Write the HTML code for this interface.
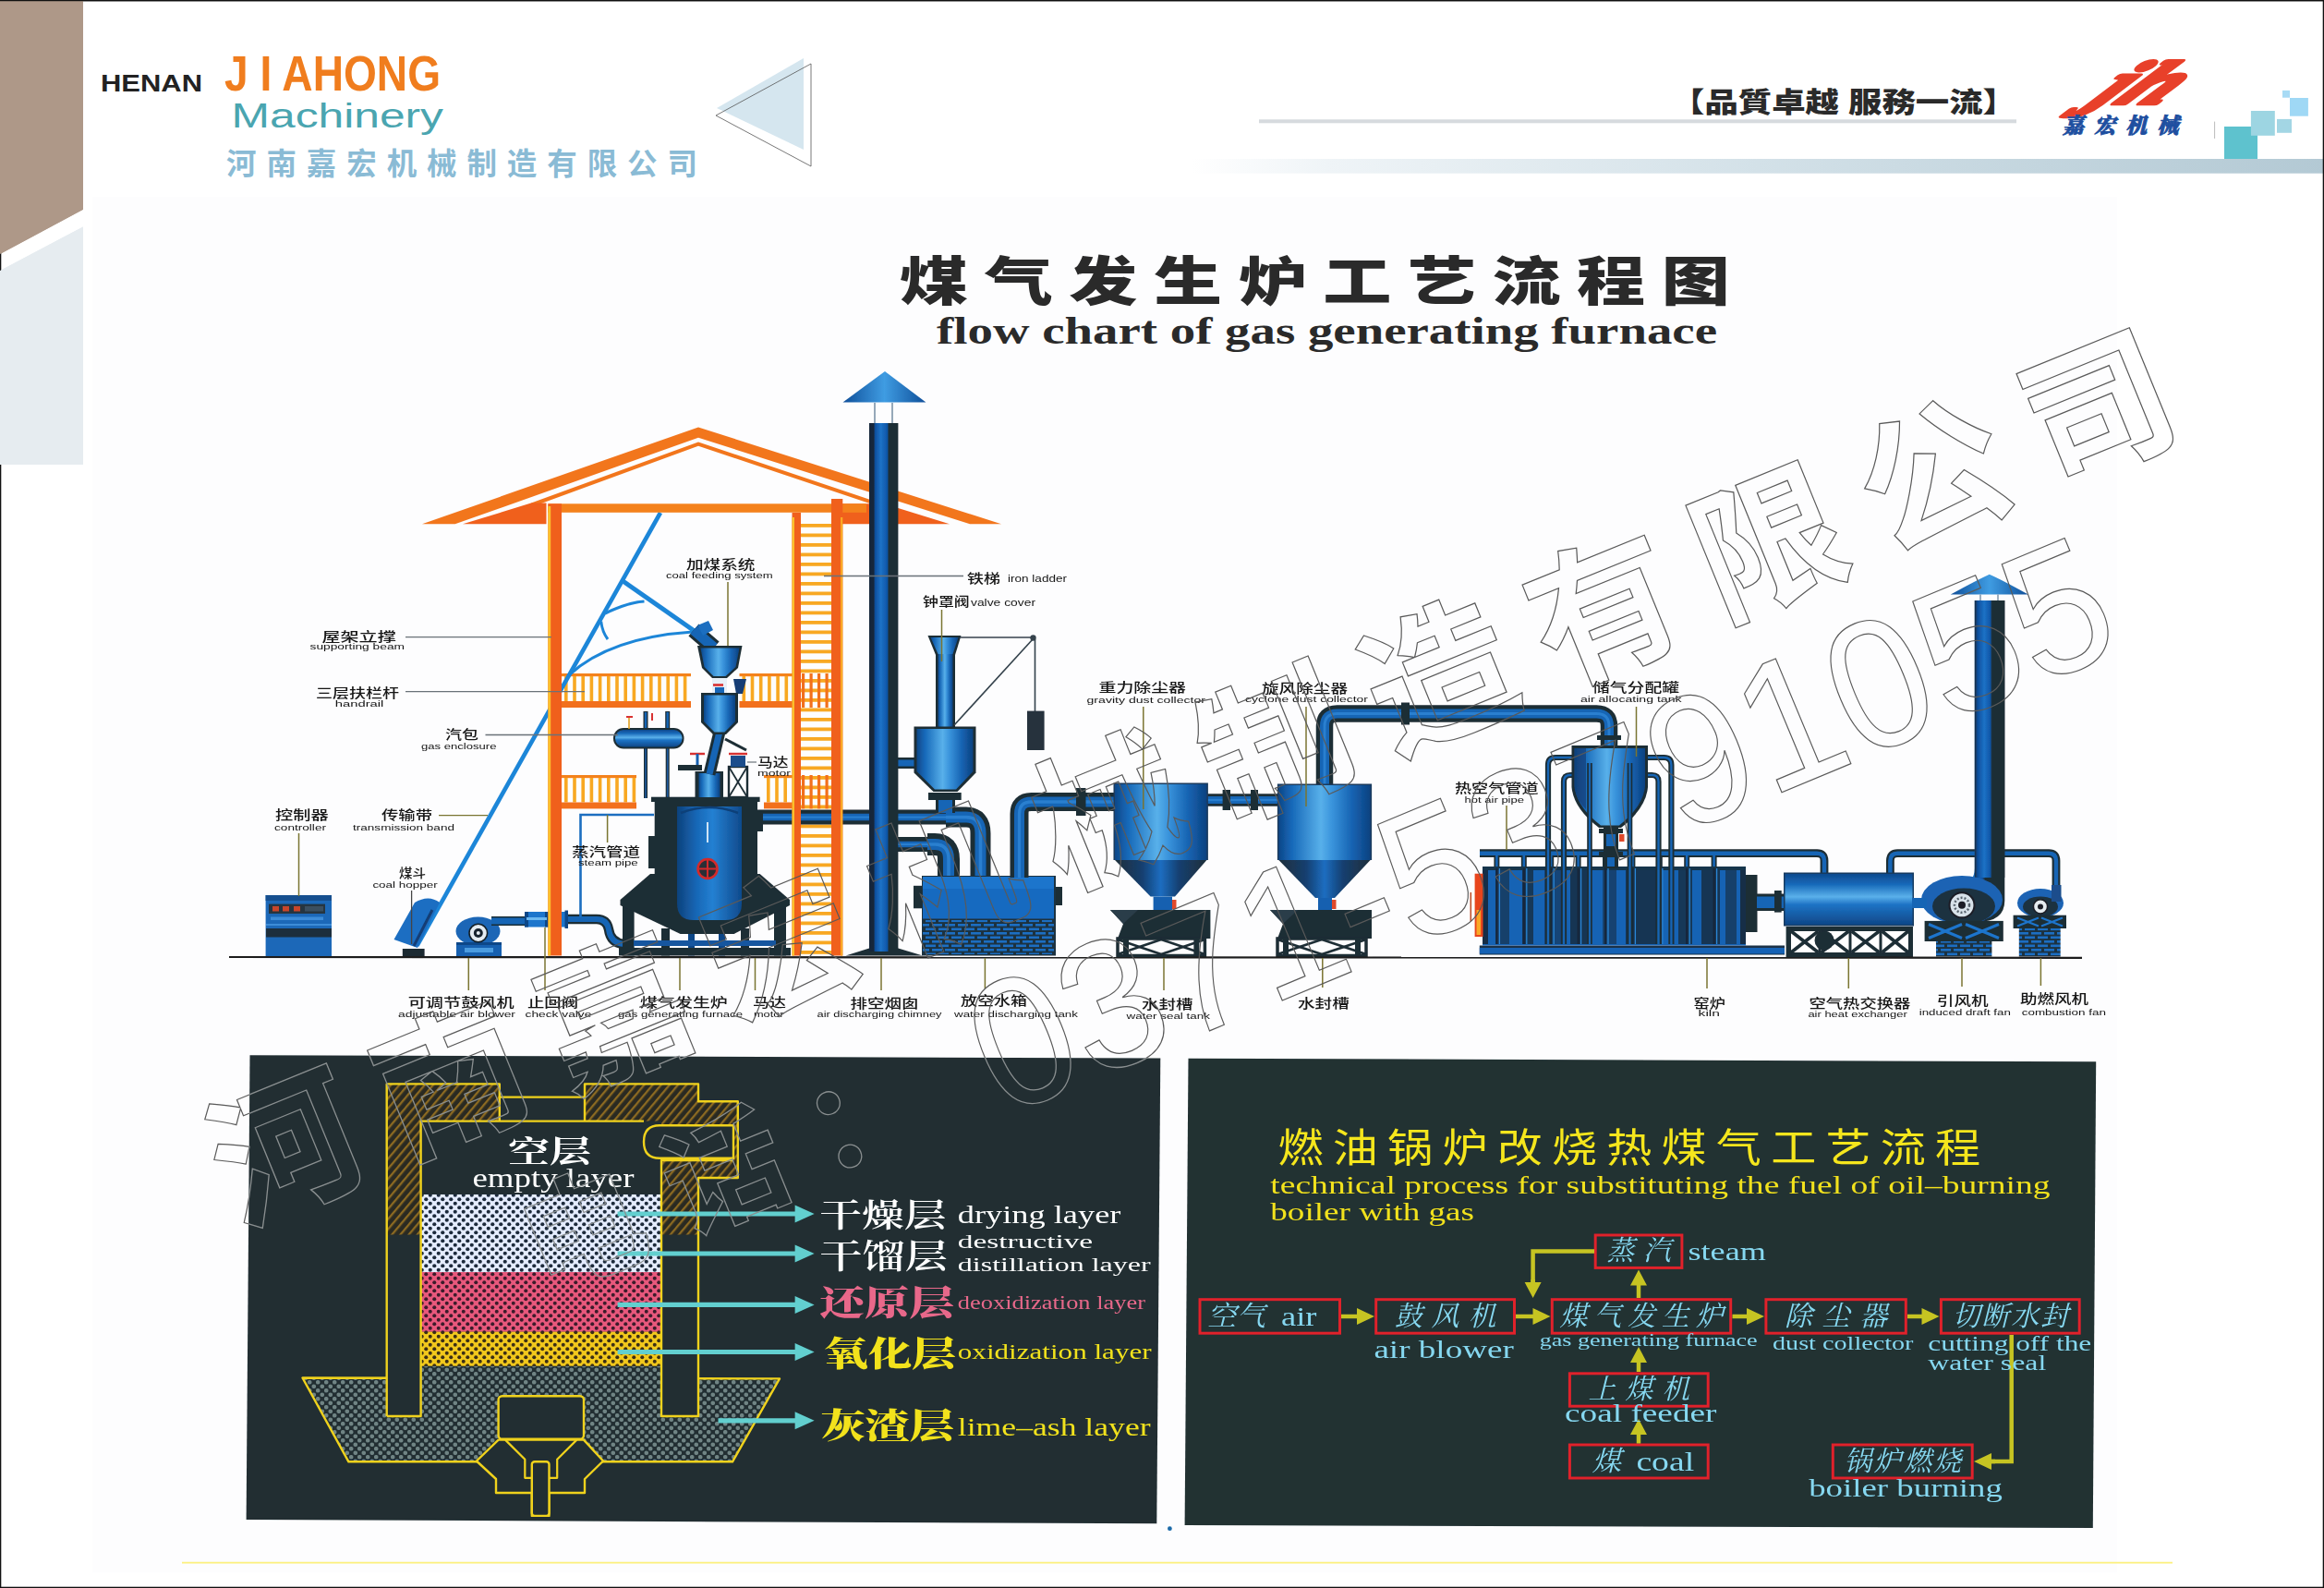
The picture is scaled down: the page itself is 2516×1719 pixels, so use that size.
<!DOCTYPE html>
<html lang="zh"><head><meta charset="utf-8"><title>煤气发生炉工艺流程图</title>
<style>html,body{margin:0;padding:0;background:#fff}body{width:2516px;height:1719px;overflow:hidden}svg{display:block}text{white-space:pre}</style>
</head><body>
<svg width="2516" height="1719" viewBox="0 0 2516 1719">
<rect width="2516" height="1719" fill="#fff"/>
<rect x="100.0" y="213.0" width="2192.0" height="1489.0" fill="#FDFDFE" />
<polygon points="0.0,0.0 90.0,0.0 90.0,226.8 0.0,275.0" fill="#AE9888" />
<polygon points="0.0,293.0 90.0,245.4 90.0,503.0 0.0,503.0" fill="#E6ECF0" />
<text x="109.0" y="98.7" font-size="25" fill="#222" font-family='"Liberation Sans","Noto Sans CJK SC",sans-serif' font-weight="700" textLength="110.0" lengthAdjust="spacingAndGlyphs">HENAN</text>
<text x="243.0" y="98.0" font-size="54.5" fill="#F07D1E" font-family='"Liberation Sans","Noto Sans CJK SC",sans-serif' font-weight="700" textLength="234.0" lengthAdjust="spacingAndGlyphs">J I AHONG</text>
<text x="250.6" y="138.0" font-size="36" fill="#4AA5B0" font-family='"Liberation Sans","Noto Sans CJK SC",sans-serif' font-weight="400" textLength="229.4" lengthAdjust="spacingAndGlyphs">Machinery</text>
<text x="245.0" y="189.0" font-size="32.5" fill="#8ABBD5" font-family='"Liberation Sans","Noto Sans CJK SC",sans-serif' font-weight="700" textLength="510.0" lengthAdjust="spacing">河南嘉宏机械制造有限公司</text>
<polygon points="776.0,117.0 870.0,63.0 870.0,162.0" fill="#D5E6EF" />
<polygon points="775.0,125.0 878.0,69.0 878.0,180.0" fill="none" stroke="#555" stroke-width="0.8"/>
<text x="1809.0" y="121.0" font-size="30" fill="#2a2a2a" font-family='"Liberation Sans","Noto Sans CJK SC",sans-serif' font-weight="900" textLength="374.0" lengthAdjust="spacingAndGlyphs">【品質卓越 服務一流】</text>
<rect x="1363.0" y="129.3" width="820.0" height="4.0" fill="#D6DADE" />
<g transform="translate(2260,111.5) skewX(-47)"><text x="0" y="0" font-size="66" fill="#E8402A" font-family='"Liberation Serif",serif' font-weight="700" font-style="italic" stroke="#E8402A" stroke-width="4.6" stroke-linejoin="round" textLength="80" lengthAdjust="spacingAndGlyphs">jh</text></g>
<text x="2233.0" y="143.5" font-size="23" fill="#1E4FA0" font-family='"Liberation Serif","Noto Serif CJK SC",serif' font-weight="900" textLength="125.4" lengthAdjust="spacing" font-style="italic" stroke="#1E4FA0" stroke-width="0.9">嘉宏机械</text>
<line x1="2397.6" y1="131.6" x2="2397.6" y2="150.0" stroke="#BBBBBB" stroke-width="1" />
<defs><linearGradient id="gbar" x1="0" x2="1" y1="0" y2="0"><stop offset="0" stop-color="#FFFFFF"/><stop offset="0.12" stop-color="#EFF4F7"/><stop offset="0.5" stop-color="#D3E1E8"/><stop offset="1" stop-color="#B3C9D4"/></linearGradient></defs>
<rect x="1290.0" y="172.0" width="1226.0" height="15.7" fill="url(#gbar)" />
<rect x="2408.0" y="137.0" width="36.0" height="35.0" fill="#5EC2CE" />
<rect x="2436.9" y="120.0" width="25.9" height="26.8" fill="#9DD5E2" />
<rect x="2465.0" y="128.9" width="16.0" height="14.9" fill="#A3D6E4" />
<rect x="2479.0" y="106.0" width="19.9" height="19.7" fill="#9FD8F5" />
<rect x="2471.0" y="97.9" width="8.0" height="7.8" fill="#A8DBF5" />
<g transform="translate(974,324.5) scale(1.3,1)"><text x="0" y="0" font-size="57" fill="#2a2a2a" font-family='"Liberation Sans","Noto Sans CJK SC",sans-serif' font-weight="900" letter-spacing="13.5">煤气发生炉工艺流程图</text></g>
<text x="1014.0" y="372.0" font-size="42" fill="#2a2a2a" font-family='"Liberation Serif","Noto Serif CJK SC",serif' font-weight="700" textLength="845.0" lengthAdjust="spacingAndGlyphs">flow chart of gas generating furnace</text>
<line x1="197.0" y1="1691.6" x2="2352.0" y2="1691.6" stroke="#FCF07C" stroke-width="1.7" />
<defs><filter id="soft" x="0" y="0" width="100%" height="100%" filterUnits="userSpaceOnUse"><feGaussianBlur stdDeviation="0.75"/></filter></defs>
<g filter="url(#soft)">
<defs>
<linearGradient id="cylG" x1="0" x2="1" y1="0" y2="0"><stop offset="0" stop-color="#0E4788"/><stop offset="0.14" stop-color="#1668B8"/><stop offset="0.46" stop-color="#58B0EA"/><stop offset="0.58" stop-color="#3A94DC"/><stop offset="0.8" stop-color="#1663B2"/><stop offset="1" stop-color="#0D4280"/></linearGradient>
<linearGradient id="coneG" x1="0" x2="1" y1="0" y2="0"><stop offset="0" stop-color="#1E2F3A"/><stop offset="0.3" stop-color="#173F70"/><stop offset="0.5" stop-color="#1B6DC0"/><stop offset="0.7" stop-color="#173F70"/><stop offset="1" stop-color="#1E2F3A"/></linearGradient>
<linearGradient id="chimG" x1="0" x2="1" y1="0" y2="0"><stop offset="0" stop-color="#16283A"/><stop offset="0.16" stop-color="#16283A"/><stop offset="0.2" stop-color="#0E4E9C"/><stop offset="0.4" stop-color="#1C72C6"/><stop offset="0.62" stop-color="#0F55A6"/><stop offset="0.68" stop-color="#1F2D35"/><stop offset="1" stop-color="#1F2D35"/></linearGradient>
<linearGradient id="chim2G" x1="0" x2="1" y1="0" y2="0"><stop offset="0" stop-color="#16283A"/><stop offset="0.1" stop-color="#0E4E9C"/><stop offset="0.32" stop-color="#1C72C6"/><stop offset="0.52" stop-color="#0F55A6"/><stop offset="0.58" stop-color="#1F2D35"/><stop offset="1" stop-color="#1F2D35"/></linearGradient>
<linearGradient id="capG" x1="0" x2="1" y1="0" y2="0"><stop offset="0" stop-color="#0F4F9A"/><stop offset="0.5" stop-color="#3F9CE2"/><stop offset="1" stop-color="#0F4F9A"/></linearGradient>
<linearGradient id="hcylG" x1="0" x2="0" y1="0" y2="1"><stop offset="0" stop-color="#0F4A8E"/><stop offset="0.2" stop-color="#1668B8"/><stop offset="0.45" stop-color="#5AB0EA"/><stop offset="0.6" stop-color="#1E74C6"/><stop offset="1" stop-color="#0E4788"/></linearGradient>
<linearGradient id="furnG" x1="0" x2="1" y1="0" y2="0"><stop offset="0" stop-color="#0E427C"/><stop offset="0.3" stop-color="#1767B6"/><stop offset="0.55" stop-color="#2480D2"/><stop offset="1" stop-color="#0F4A8C"/></linearGradient>
<pattern id="brick" width="14" height="9" patternUnits="userSpaceOnUse"><rect width="14" height="9" fill="#1E3040"/><rect x="1" y="1" width="11" height="2.6" fill="#1C6EC2"/><rect x="8" y="5.5" width="11" height="2.6" fill="#1C6EC2"/><rect x="-6" y="5.5" width="11" height="2.6" fill="#1C6EC2"/></pattern>
</defs>
<rect x="866.0" y="567.0" width="34.0" height="3.8" fill="#F8A820" />
<rect x="866.0" y="577.5" width="34.0" height="3.8" fill="#F8A820" />
<rect x="866.0" y="588.0" width="34.0" height="3.8" fill="#F8A820" />
<rect x="866.0" y="598.5" width="34.0" height="3.8" fill="#F8A820" />
<rect x="866.0" y="609.0" width="34.0" height="3.8" fill="#F8A820" />
<rect x="866.0" y="619.5" width="34.0" height="3.8" fill="#F8A820" />
<rect x="866.0" y="630.0" width="34.0" height="3.8" fill="#F8A820" />
<rect x="866.0" y="640.5" width="34.0" height="3.8" fill="#F8A820" />
<rect x="866.0" y="651.0" width="34.0" height="3.8" fill="#F8A820" />
<rect x="866.0" y="661.5" width="34.0" height="3.8" fill="#F8A820" />
<rect x="866.0" y="672.0" width="34.0" height="3.8" fill="#F8A820" />
<rect x="866.0" y="682.5" width="34.0" height="3.8" fill="#F8A820" />
<rect x="866.0" y="693.0" width="34.0" height="3.8" fill="#F8A820" />
<rect x="866.0" y="703.5" width="34.0" height="3.8" fill="#F8A820" />
<rect x="866.0" y="714.0" width="34.0" height="3.8" fill="#F8A820" />
<rect x="866.0" y="724.5" width="34.0" height="3.8" fill="#F8A820" />
<rect x="866.0" y="735.0" width="34.0" height="3.8" fill="#F8A820" />
<rect x="866.0" y="745.5" width="34.0" height="3.8" fill="#F8A820" />
<rect x="866.0" y="756.0" width="34.0" height="3.8" fill="#F8A820" />
<rect x="866.0" y="766.5" width="34.0" height="3.8" fill="#F8A820" />
<rect x="866.0" y="777.0" width="34.0" height="3.8" fill="#F8A820" />
<rect x="866.0" y="787.5" width="34.0" height="3.8" fill="#F8A820" />
<rect x="866.0" y="798.0" width="34.0" height="3.8" fill="#F8A820" />
<rect x="866.0" y="808.5" width="34.0" height="3.8" fill="#F8A820" />
<rect x="866.0" y="819.0" width="34.0" height="3.8" fill="#F8A820" />
<rect x="866.0" y="829.5" width="34.0" height="3.8" fill="#F8A820" />
<rect x="866.0" y="840.0" width="34.0" height="3.8" fill="#F8A820" />
<rect x="866.0" y="850.5" width="34.0" height="3.8" fill="#F8A820" />
<rect x="866.0" y="861.0" width="34.0" height="3.8" fill="#F8A820" />
<rect x="866.0" y="871.5" width="34.0" height="3.8" fill="#F8A820" />
<rect x="866.0" y="882.0" width="34.0" height="3.8" fill="#F8A820" />
<rect x="866.0" y="892.5" width="34.0" height="3.8" fill="#F8A820" />
<rect x="866.0" y="903.0" width="34.0" height="3.8" fill="#F8A820" />
<rect x="866.0" y="913.5" width="34.0" height="3.8" fill="#F8A820" />
<rect x="866.0" y="924.0" width="34.0" height="3.8" fill="#F8A820" />
<rect x="866.0" y="934.5" width="34.0" height="3.8" fill="#F8A820" />
<rect x="866.0" y="945.0" width="34.0" height="3.8" fill="#F8A820" />
<rect x="866.0" y="955.5" width="34.0" height="3.8" fill="#F8A820" />
<rect x="866.0" y="966.0" width="34.0" height="3.8" fill="#F8A820" />
<rect x="866.0" y="976.5" width="34.0" height="3.8" fill="#F8A820" />
<rect x="866.0" y="987.0" width="34.0" height="3.8" fill="#F8A820" />
<rect x="866.0" y="997.5" width="34.0" height="3.8" fill="#F8A820" />
<rect x="866.0" y="1008.0" width="34.0" height="3.8" fill="#F8A820" />
<rect x="866.0" y="1018.5" width="34.0" height="3.8" fill="#F8A820" />
<rect x="866.0" y="1029.0" width="34.0" height="3.8" fill="#F8A820" />
<rect x="608.0" y="729.0" width="140.0" height="3.2" fill="#F4821F" />
<rect x="611.0" y="732.0" width="3.6" height="27.0" fill="#F8A820" />
<rect x="620.2" y="732.0" width="3.6" height="27.0" fill="#F8A820" />
<rect x="629.4" y="732.0" width="3.6" height="27.0" fill="#F8A820" />
<rect x="638.6" y="732.0" width="3.6" height="27.0" fill="#F8A820" />
<rect x="647.8" y="732.0" width="3.6" height="27.0" fill="#F8A820" />
<rect x="657.0" y="732.0" width="3.6" height="27.0" fill="#F8A820" />
<rect x="666.2" y="732.0" width="3.6" height="27.0" fill="#F8A820" />
<rect x="675.4" y="732.0" width="3.6" height="27.0" fill="#F8A820" />
<rect x="684.6" y="732.0" width="3.6" height="27.0" fill="#F8A820" />
<rect x="693.8" y="732.0" width="3.6" height="27.0" fill="#F8A820" />
<rect x="703.0" y="732.0" width="3.6" height="27.0" fill="#F8A820" />
<rect x="712.2" y="732.0" width="3.6" height="27.0" fill="#F8A820" />
<rect x="721.4" y="732.0" width="3.6" height="27.0" fill="#F8A820" />
<rect x="730.6" y="732.0" width="3.6" height="27.0" fill="#F8A820" />
<rect x="739.8" y="732.0" width="3.6" height="27.0" fill="#F8A820" />
<rect x="608.0" y="759.0" width="140.0" height="7.0" fill="#F2701F" />
<rect x="800.5" y="729.0" width="57.5" height="3.2" fill="#F4821F" />
<rect x="803.5" y="732.0" width="3.6" height="27.0" fill="#F8A820" />
<rect x="812.7" y="732.0" width="3.6" height="27.0" fill="#F8A820" />
<rect x="821.9" y="732.0" width="3.6" height="27.0" fill="#F8A820" />
<rect x="831.1" y="732.0" width="3.6" height="27.0" fill="#F8A820" />
<rect x="840.3" y="732.0" width="3.6" height="27.0" fill="#F8A820" />
<rect x="849.5" y="732.0" width="3.6" height="27.0" fill="#F8A820" />
<rect x="800.5" y="759.0" width="57.5" height="7.0" fill="#F2701F" />
<rect x="608.0" y="839.0" width="81.0" height="3.2" fill="#F4821F" />
<rect x="611.0" y="842.0" width="3.6" height="26.5" fill="#F8A820" />
<rect x="620.2" y="842.0" width="3.6" height="26.5" fill="#F8A820" />
<rect x="629.4" y="842.0" width="3.6" height="26.5" fill="#F8A820" />
<rect x="638.6" y="842.0" width="3.6" height="26.5" fill="#F8A820" />
<rect x="647.8" y="842.0" width="3.6" height="26.5" fill="#F8A820" />
<rect x="657.0" y="842.0" width="3.6" height="26.5" fill="#F8A820" />
<rect x="666.2" y="842.0" width="3.6" height="26.5" fill="#F8A820" />
<rect x="675.4" y="842.0" width="3.6" height="26.5" fill="#F8A820" />
<rect x="684.6" y="842.0" width="3.6" height="26.5" fill="#F8A820" />
<rect x="608.0" y="868.5" width="81.0" height="6.9" fill="#F2701F" />
<rect x="827.0" y="839.0" width="31.0" height="3.2" fill="#F4821F" />
<rect x="830.0" y="842.0" width="3.6" height="26.5" fill="#F8A820" />
<rect x="839.2" y="842.0" width="3.6" height="26.5" fill="#F8A820" />
<rect x="848.4" y="842.0" width="3.6" height="26.5" fill="#F8A820" />
<rect x="827.0" y="868.5" width="31.0" height="6.9" fill="#F2701F" />
<rect x="868.0" y="729.0" width="3.2" height="37.0" fill="#F2701F" />
<rect x="876.5" y="729.0" width="3.2" height="37.0" fill="#F2701F" />
<rect x="885.0" y="729.0" width="3.2" height="37.0" fill="#F2701F" />
<rect x="893.5" y="729.0" width="3.2" height="37.0" fill="#F2701F" />
<rect x="868.0" y="839.0" width="3.2" height="36.4" fill="#F2701F" />
<rect x="876.5" y="839.0" width="3.2" height="36.4" fill="#F2701F" />
<rect x="885.0" y="839.0" width="3.2" height="36.4" fill="#F2701F" />
<rect x="893.5" y="839.0" width="3.2" height="36.4" fill="#F2701F" />
<path d="M820,884.6 H1040" fill="none" stroke="#1F2D35" stroke-width="16" stroke-linejoin="round"/>
<path d="M820,884.6 H1040" fill="none" stroke="#1565B5" stroke-width="7.5" stroke-linejoin="round"/>
<path d="M820,884.6 H1040" fill="none" stroke="#2F86D6" stroke-width="2.25" stroke-linejoin="round" opacity="0.8"/>
<path d="M1024,884.6 H1046 Q1061.5,884.6 1061.5,902 V950" fill="none" stroke="#1F2D35" stroke-width="22" stroke-linejoin="round"/>
<path d="M1024,884.6 H1046 Q1061.5,884.6 1061.5,902 V950" fill="none" stroke="#1565B5" stroke-width="12" stroke-linejoin="round"/>
<path d="M1024,884.6 H1046 Q1061.5,884.6 1061.5,902 V950" fill="none" stroke="#2F86D6" stroke-width="3.5999999999999996" stroke-linejoin="round" opacity="0.8"/>
<path d="M972,914 H1012" fill="none" stroke="#1F2D35" stroke-width="16" stroke-linejoin="round"/>
<path d="M972,914 H1012" fill="none" stroke="#1565B5" stroke-width="6.5" stroke-linejoin="round"/>
<path d="M972,914 H1012" fill="none" stroke="#2F86D6" stroke-width="1.95" stroke-linejoin="round" opacity="0.8"/>
<path d="M1004,914 H1012 Q1027,914 1027,930 V950" fill="none" stroke="#1F2D35" stroke-width="24" stroke-linejoin="round"/>
<path d="M1004,914 H1012 Q1027,914 1027,930 V950" fill="none" stroke="#1565B5" stroke-width="12" stroke-linejoin="round"/>
<path d="M1004,914 H1012 Q1027,914 1027,930 V950" fill="none" stroke="#2F86D6" stroke-width="3.5999999999999996" stroke-linejoin="round" opacity="0.8"/>
<path d="M972,826 H993" fill="none" stroke="#1F2D35" stroke-width="12" stroke-linejoin="round"/>
<path d="M972,826 H993" fill="none" stroke="#1565B5" stroke-width="7" stroke-linejoin="round"/>
<rect x="287.6" y="969.0" width="71.4" height="66.0" fill="#1A68B8" />
<rect x="287.6" y="969.0" width="71.4" height="6.0" fill="#12508F" />
<rect x="291.0" y="978.6" width="61.0" height="10.4" fill="#253540" />
<rect x="295.0" y="981.0" width="7.0" height="5.5" fill="#C8452C" />
<rect x="306.0" y="981.0" width="7.0" height="5.5" fill="#C8452C" />
<rect x="318.0" y="981.0" width="7.0" height="5.5" fill="#C8452C" />
<rect x="330.0" y="981.0" width="20.0" height="5.5" fill="#3A5060" />
<rect x="293.0" y="992.5" width="57.0" height="3.5" fill="#3C8CD8" />
<rect x="288.0" y="1005.0" width="71.0" height="9.5" fill="#1F2F3C" />
<rect x="288.0" y="1000.0" width="71.0" height="2.0" fill="#3C8CD8" />
<line x1="451.6" y1="1023.6" x2="715.0" y2="555.0" stroke="#1E86D8" stroke-width="4.6" />
<line x1="674.0" y1="628.7" x2="756.0" y2="686.0" stroke="#1E86D8" stroke-width="5" />
<path d="M655,664 Q680,652 697.5,651" fill="none" stroke="#1E86D8" stroke-width="3.2" />
<path d="M615.6,731 Q660,690 750,684" fill="none" stroke="#1E86D8" stroke-width="3.2" />
<path d="M650.7,672.6 Q652,684 658,692" fill="none" stroke="#1E86D8" stroke-width="3" />
<path d="M449,977 Q464,968 476,977 L452,1026 L426.5,1017 Z" fill="#1B6EC2" stroke="none" stroke-width="1" />
<path d="M468,985 L448,1024" fill="none" stroke="#123E74" stroke-width="3" />
<rect x="435.8" y="1027.0" width="23.8" height="8.0" fill="#1F2A32" />
<ellipse cx="517.5" cy="1008" rx="24" ry="15.5" fill="#1A66B6"/>
<rect x="494.0" y="1020.0" width="49.0" height="15.0" fill="#1560B0" />
<rect x="494.0" y="1020.0" width="49.0" height="3.0" fill="#0E4788" />
<rect x="503.0" y="1026.0" width="31.0" height="5.0" fill="#4C9CE0" />
<circle cx="517.8" cy="1010" r="9.8" fill="#E4ECF2" stroke="#14202A" stroke-width="1.6"/>
<circle cx="517.8" cy="1010" r="5" fill="#18242E"/><circle cx="517.8" cy="1010" r="2" fill="#E4ECF2"/>
<path d="M532,997 H570" fill="none" stroke="#1F2D35" stroke-width="10" stroke-linejoin="round"/>
<path d="M532,997 H570" fill="none" stroke="#1565B5" stroke-width="7" stroke-linejoin="round"/>
<rect x="568.0" y="987.0" width="26.0" height="16.5" fill="#1B74CC" />
<rect x="568.0" y="987.0" width="4.0" height="16.5" fill="#0E4788" />
<rect x="590.0" y="987.0" width="4.0" height="16.5" fill="#0E4788" />
<rect x="570.0" y="993.0" width="22.0" height="3.0" fill="#6CB8F0" />
<polygon points="457.0,567.3 756.0,462.5 1084.0,567.3 1050.0,567.3 756.0,473.8 492.7,567.3" fill="#F2761F" />
<polygon points="575.0,544.6 756.0,478.4 955.0,545.3 955.0,549.5 756.0,482.8 575.0,549.0" fill="#F2761F" />
<polygon points="501.0,567.3 575.0,544.6 591.5,544.6 591.5,567.3" fill="#F0601E" />
<polygon points="911.7,545.3 957.0,545.3 1028.0,567.3 911.7,567.3" fill="#F0601E" />
<rect x="593.4" y="545.3" width="344.6" height="9.5" fill="#F4821F" />
<rect x="593.4" y="545.3" width="14.6" height="489.2" fill="#F0601E" />
<rect x="593.4" y="548.0" width="2.8" height="486.5" fill="#FBC02A" />
<rect x="900.0" y="540.0" width="12.3" height="494.5" fill="#F0601E" />
<rect x="910.0" y="560.0" width="2.3" height="474.5" fill="#F9A825" />
<rect x="857.5" y="555.0" width="9.5" height="479.5" fill="#F0601E" />
<rect x="857.5" y="560.0" width="2.5" height="474.5" fill="#FBC02A" />
<rect x="608.0" y="987.0" width="7.0" height="16.5" fill="#1B74CC" />
<rect x="611.5" y="985.5" width="3.5" height="19.5" fill="#0E4788" />
<path d="M615,995 H646 Q657,995 659,1006 Q661,1021 676,1022" fill="none" stroke="#1F2D35" stroke-width="10.5" stroke-linejoin="round"/>
<path d="M615,995 H646 Q657,995 659,1006 Q661,1021 676,1022" fill="none" stroke="#1565B5" stroke-width="6" stroke-linejoin="round"/>
<line x1="699.0" y1="770.0" x2="699.0" y2="790.0" stroke="#1F2D35" stroke-width="5" />
<line x1="699.0" y1="771.0" x2="699.0" y2="790.0" stroke="#1565B5" stroke-width="2.4" />
<line x1="699.0" y1="808.0" x2="699.0" y2="864.0" stroke="#1F2D35" stroke-width="4" />
<line x1="699.0" y1="808.0" x2="699.0" y2="864.0" stroke="#1A5AA0" stroke-width="1.6" />
<line x1="722.7" y1="770.0" x2="722.7" y2="790.0" stroke="#1F2D35" stroke-width="5" />
<line x1="722.7" y1="771.0" x2="722.7" y2="790.0" stroke="#1565B5" stroke-width="2.4" />
<line x1="722.7" y1="808.0" x2="722.7" y2="864.0" stroke="#1F2D35" stroke-width="4" />
<line x1="722.7" y1="808.0" x2="722.7" y2="864.0" stroke="#1A5AA0" stroke-width="1.6" />
<rect x="664" y="788" width="76.5" height="22.5" rx="11" fill="#1F2D35"/>
<rect x="666" y="790" width="72.5" height="18.5" rx="9" fill="url(#hcylG)"/>
<line x1="681.0" y1="775.0" x2="681.0" y2="789.0" stroke="#E0A020" stroke-width="1.6" />
<line x1="678.0" y1="776.0" x2="685.0" y2="776.0" stroke="#D83030" stroke-width="2" />
<line x1="706.0" y1="772.0" x2="706.0" y2="780.0" stroke="#D83030" stroke-width="2" />
<path d="M708,882 H628.5 V993" fill="none" stroke="#1A6EC0" stroke-width="2.6" />
<rect x="674.0" y="972.0" width="12.6" height="62.5" fill="#1F2D35" />
<rect x="838.0" y="972.0" width="13.0" height="62.5" fill="#1F2D35" />
<rect x="716.0" y="1005.0" width="9.0" height="29.5" fill="#1F2D35" />
<rect x="802.0" y="1005.0" width="9.0" height="29.5" fill="#1F2D35" />
<rect x="745.0" y="1009.0" width="7.0" height="25.5" fill="#0E4788" />
<rect x="778.0" y="1009.0" width="7.0" height="25.5" fill="#0E4788" />
<rect x="670.0" y="1026.0" width="186.0" height="8.5" fill="#1F2D35" />
<rect x="686.0" y="1018.0" width="154.0" height="6.0" fill="#14579F" />
<polygon points="704.0,946.0 822.6,946.0 855.0,974.0 855.0,980.0 794.7,1011.0 736.6,1011.0 671.5,980.0 671.5,974.0" fill="#1F2D35" />
<rect x="708.7" y="866.0" width="111.3" height="82.0" fill="#1F2D35" />
<rect x="705.0" y="862.7" width="117.6" height="5.3" fill="#1F2D35" />
<rect x="702.0" y="905.0" width="7.0" height="35.0" fill="#1F2D35" />
<rect x="820.0" y="880.0" width="6.0" height="20.0" fill="#1F2D35" />
<path d="M733,873 H803 V978 Q803,996 785,996 H751 Q733,996 733,978 Z" fill="url(#furnG)" stroke="none" stroke-width="1" />
<path d="M737,880 Q768,868 799,880" fill="none" stroke="#0E3F78" stroke-width="2.5" />
<line x1="766.0" y1="890.0" x2="766.0" y2="912.0" stroke="#CFE3F5" stroke-width="2" />
<circle cx="766" cy="940.5" r="10.5" fill="#2A2F36" stroke="#D42A2A" stroke-width="2.6"/>
<line x1="766.0" y1="931.0" x2="766.0" y2="950.0" stroke="#D42A2A" stroke-width="2" />
<line x1="756.5" y1="940.5" x2="775.5" y2="940.5" stroke="#D42A2A" stroke-width="2" />
<rect x="752.5" y="835.0" width="30.5" height="29.0" fill="#1F2D35" />
<rect x="756.5" y="837.0" width="23.0" height="26.0" fill="url(#cylG)" />
<rect x="789.0" y="830.0" width="20.0" height="33.0" fill="none" stroke="#1F2D35" stroke-width="2.4"/>
<line x1="789.0" y1="830.0" x2="809.0" y2="863.0" stroke="#1F2D35" stroke-width="1.8" />
<line x1="809.0" y1="830.0" x2="789.0" y2="863.0" stroke="#1F2D35" stroke-width="1.8" />
<rect x="791.0" y="818.0" width="16.0" height="12.0" fill="#1A4E8C" />
<line x1="747.0" y1="816.0" x2="763.0" y2="816.0" stroke="#D83030" stroke-width="2.4" />
<line x1="789.0" y1="816.0" x2="809.0" y2="816.0" stroke="#D83030" stroke-width="2.4" />
<line x1="755.0" y1="816.0" x2="755.0" y2="830.0" stroke="#1660B0" stroke-width="3" />
<rect x="734.0" y="828.0" width="26.0" height="6.0" fill="#1F2D35" />
<path d="M779,792 L768,838" fill="none" stroke="#1F2D35" stroke-width="13" />
<path d="M779,792 L768,838" fill="none" stroke="#1565B5" stroke-width="7" />
<path d="M785,800 L808,812" fill="none" stroke="#1F2D35" stroke-width="3" />
<path d="M751,682 L773,701" fill="none" stroke="#1F2D35" stroke-width="17" />
<path d="M751,682 L773,701" fill="none" stroke="#1565B5" stroke-width="11" />
<polygon points="755.0,677.0 767.0,672.0 772.0,682.0 761.0,688.0" fill="#1A6EC0" />
<polygon points="755.0,699.0 803.5,699.0 799.0,723.0 787.0,734.0 771.0,734.0 760.0,723.0" fill="#1F2D35" />
<polygon points="758.5,701.5 800.5,701.5 796.5,722.0 785.5,732.0 772.5,732.0 762.5,722.0" fill="url(#cylG)" />
<rect x="771.0" y="734.0" width="16.0" height="18.0" fill="#E8F0F8" />
<line x1="772.0" y1="741.5" x2="783.0" y2="741.5" stroke="#D83030" stroke-width="2.6" />
<rect x="774.0" y="744.0" width="10.0" height="7.0" fill="#1565B5" />
<polygon points="794.0,735.0 808.0,735.0 804.0,751.0 797.0,751.0" fill="#123E74" />
<polygon points="759.0,750.0 799.0,750.0 799.0,782.0 786.0,795.0 772.0,795.0 759.0,782.0" fill="#1F2D35" />
<polygon points="762.0,752.5 796.0,752.5 796.0,781.0 784.5,792.5 773.5,792.5 762.0,781.0" fill="url(#cylG)" />
<polygon points="915.5,1034.5 941.0,1026.5 972.4,1026.5 999.0,1034.5" fill="#1F2D35" />
<rect x="941.0" y="458.0" width="31.4" height="572.0" fill="url(#chimG)" />
<line x1="947.0" y1="436.0" x2="947.0" y2="458.0" stroke="#7C93A8" stroke-width="1.6" />
<line x1="966.0" y1="436.0" x2="966.0" y2="458.0" stroke="#7C93A8" stroke-width="1.6" />
<polygon points="958.0,402.0 1002.4,435.6 912.5,435.6" fill="url(#capG)" />
<polygon points="1004.5,688.0 1040.5,688.0 1034.0,709.0 1013.0,709.0" fill="#1F2D35" />
<polygon points="1007.5,690.0 1037.5,690.0 1031.5,708.0 1015.5,708.0" fill="url(#cylG)" />
<rect x="1013.0" y="708.0" width="21.0" height="82.0" fill="#1F2D35" />
<rect x="1015.5" y="708.0" width="16.0" height="82.0" fill="url(#cylG)" />
<polygon points="989.5,786.5 1056.5,786.5 1056.5,836.5 1036.5,857.0 1010.5,857.0 989.5,836.5" fill="#1F2D35" />
<polygon points="992.5,789.0 1053.5,789.0 1053.5,835.0 1035.0,854.5 1012.0,854.5 992.5,835.0" fill="url(#cylG)" />
<rect x="1005.0" y="858.0" width="35.7" height="8.0" fill="#1F2D35" />
<rect x="1013.0" y="866.0" width="21.0" height="14.0" fill="#1F2D35" />
<rect x="1016.0" y="866.0" width="15.0" height="14.0" fill="#1565B5" />
<line x1="1039.0" y1="690.0" x2="1117.0" y2="690.0" stroke="#34424C" stroke-width="1.6" />
<line x1="1118.0" y1="692.0" x2="1033.0" y2="785.0" stroke="#34424C" stroke-width="1.6" />
<line x1="1120.5" y1="692.0" x2="1120.5" y2="770.0" stroke="#34424C" stroke-width="1.6" />
<circle cx="1118.5" cy="690.5" r="3.2" fill="#34424C"/>
<rect x="1112.0" y="769.6" width="18.6" height="42.4" fill="#25333C" />
<rect x="989.0" y="958.8" width="11.0" height="24.5" fill="#1F2D35" />
<rect x="1142.0" y="960.0" width="8.0" height="20.0" fill="#1F2D35" />
<rect x="998.0" y="948.0" width="145.0" height="86.5" fill="#1E3040" />
<rect x="999.0" y="949.0" width="142.0" height="45.5" fill="#176AC0" />
<rect x="999.0" y="949.0" width="142.0" height="13.0" fill="#1B74CC" />
<rect x="999.0" y="996.0" width="142.0" height="37.0" fill="url(#brick)" />
<path d="M1103.5,950 V881 Q1103.5,868 1116.5,868 H1209" fill="none" stroke="#1F2D35" stroke-width="20" stroke-linejoin="round"/>
<path d="M1103.5,950 V881 Q1103.5,868 1116.5,868 H1209" fill="none" stroke="#1565B5" stroke-width="11" stroke-linejoin="round"/>
<path d="M1103.5,950 V881 Q1103.5,868 1116.5,868 H1209" fill="none" stroke="#2F86D6" stroke-width="3.3" stroke-linejoin="round" opacity="0.8"/>
<rect x="1165.0" y="853.0" width="10.5" height="30.0" fill="#1F2D35" />
<path d="M1305,866 H1386" fill="none" stroke="#1F2D35" stroke-width="13.5" stroke-linejoin="round"/>
<path d="M1305,866 H1386" fill="none" stroke="#1565B5" stroke-width="8" stroke-linejoin="round"/>
<path d="M1305,866 H1386" fill="none" stroke="#2F86D6" stroke-width="2.4" stroke-linejoin="round" opacity="0.8"/>
<rect x="1323.6" y="855.0" width="8.4" height="22.0" fill="#1F2D35" />
<rect x="1354.0" y="855.0" width="8.0" height="22.0" fill="#1F2D35" />
<path d="M1434,852 V786 Q1434,772.4 1447.6,772.4 H1728.4 Q1742,772.4 1742,786 V810" fill="none" stroke="#1F2D35" stroke-width="18.5" stroke-linejoin="round"/>
<path d="M1434,852 V786 Q1434,772.4 1447.6,772.4 H1728.4 Q1742,772.4 1742,786 V810" fill="none" stroke="#1565B5" stroke-width="10" stroke-linejoin="round"/>
<path d="M1434,852 V786 Q1434,772.4 1447.6,772.4 H1728.4 Q1742,772.4 1742,786 V810" fill="none" stroke="#2F86D6" stroke-width="3.0" stroke-linejoin="round" opacity="0.8"/>
<rect x="1517.0" y="760.5" width="9.0" height="24.0" fill="#1F2D35" />
<rect x="1729.0" y="796.0" width="26.0" height="5.0" fill="#1F2D35" />
<polygon points="1207.0,931.0 1306.4,931.0 1272.0,970.6 1245.6,970.6" fill="url(#coneG)" />
<rect x="1205.5" y="847.5" width="102.4" height="83.5" fill="#1B3A5C" />
<rect x="1207.0" y="849.0" width="99.4" height="82.0" fill="url(#cylG)" />
<rect x="1248.6" y="970.6" width="20.4" height="15.4" fill="#1560B0" />
<rect x="1269.0" y="974.0" width="4.5" height="10.0" fill="#E04A2A" />
<polygon points="1202.0,985.0 1310.4,985.0 1310.4,1016.0 1210.0,1016.0 1216.0,1000.0" fill="#1F2D35" />
<polygon points="1202.0,985.0 1232.0,985.0 1216.0,1000.0" fill="#2A3C48" />
<rect x="1210.0" y="1016.0" width="94.4" height="18.5" fill="none" stroke="#1F2D35" stroke-width="3.5"/>
<line x1="1210.0" y1="1017.0" x2="1257.2" y2="1033.0" stroke="#1F2D35" stroke-width="2.6" />
<line x1="1257.2" y1="1017.0" x2="1210.0" y2="1033.0" stroke="#1F2D35" stroke-width="2.6" />
<line x1="1257.2" y1="1017.0" x2="1304.4" y2="1033.0" stroke="#1F2D35" stroke-width="2.6" />
<line x1="1304.4" y1="1017.0" x2="1257.2" y2="1033.0" stroke="#1F2D35" stroke-width="2.6" />
<rect x="1216.0" y="1016.0" width="6.0" height="18.5" fill="#1F2D35" />
<rect x="1292.4" y="1016.0" width="6.0" height="18.5" fill="#1F2D35" />
<polygon points="1384.4,931.0 1483.6,931.0 1445.0,972.0 1424.0,972.0" fill="url(#coneG)" />
<rect x="1382.9" y="848.5" width="102.2" height="82.5" fill="#1B3A5C" />
<rect x="1384.4" y="850.0" width="99.2" height="81.0" fill="url(#cylG)" />
<rect x="1427.0" y="972.0" width="15.0" height="14.0" fill="#1560B0" />
<rect x="1442.0" y="974.0" width="4.5" height="10.0" fill="#E04A2A" />
<polygon points="1375.0,985.0 1485.0,985.0 1485.0,1016.0 1383.0,1016.0 1389.0,1000.0" fill="#1F2D35" />
<polygon points="1375.0,985.0 1405.0,985.0 1389.0,1000.0" fill="#2A3C48" />
<rect x="1383.0" y="1016.0" width="96.0" height="18.5" fill="none" stroke="#1F2D35" stroke-width="3.5"/>
<line x1="1383.0" y1="1017.0" x2="1431.0" y2="1033.0" stroke="#1F2D35" stroke-width="2.6" />
<line x1="1431.0" y1="1017.0" x2="1383.0" y2="1033.0" stroke="#1F2D35" stroke-width="2.6" />
<line x1="1431.0" y1="1017.0" x2="1479.0" y2="1033.0" stroke="#1F2D35" stroke-width="2.6" />
<line x1="1479.0" y1="1017.0" x2="1431.0" y2="1033.0" stroke="#1F2D35" stroke-width="2.6" />
<rect x="1389.0" y="1016.0" width="6.0" height="18.5" fill="#1F2D35" />
<rect x="1467.0" y="1016.0" width="6.0" height="18.5" fill="#1F2D35" />
<path d="M1602,923.7 H1967 Q1975,923.7 1975,931.7 V947" fill="none" stroke="#1F2D35" stroke-width="8.8" stroke-linejoin="round"/>
<path d="M1602,923.7 H1967 Q1975,923.7 1975,931.7 V947" fill="none" stroke="#1565B5" stroke-width="4.5" stroke-linejoin="round"/>
<path d="M1620.4,926 V941" fill="none" stroke="#1F2D35" stroke-width="6" stroke-linejoin="round"/>
<path d="M1620.4,926 V941" fill="none" stroke="#1565B5" stroke-width="2.6" stroke-linejoin="round"/>
<path d="M1649.8,926 V941" fill="none" stroke="#1F2D35" stroke-width="6" stroke-linejoin="round"/>
<path d="M1649.8,926 V941" fill="none" stroke="#1565B5" stroke-width="2.6" stroke-linejoin="round"/>
<path d="M1679.2,926 V941" fill="none" stroke="#1F2D35" stroke-width="6" stroke-linejoin="round"/>
<path d="M1679.2,926 V941" fill="none" stroke="#1565B5" stroke-width="2.6" stroke-linejoin="round"/>
<path d="M1708.6,926 V941" fill="none" stroke="#1F2D35" stroke-width="6" stroke-linejoin="round"/>
<path d="M1708.6,926 V941" fill="none" stroke="#1565B5" stroke-width="2.6" stroke-linejoin="round"/>
<path d="M1738.0,926 V941" fill="none" stroke="#1F2D35" stroke-width="6" stroke-linejoin="round"/>
<path d="M1738.0,926 V941" fill="none" stroke="#1565B5" stroke-width="2.6" stroke-linejoin="round"/>
<path d="M1767.4,926 V941" fill="none" stroke="#1F2D35" stroke-width="6" stroke-linejoin="round"/>
<path d="M1767.4,926 V941" fill="none" stroke="#1565B5" stroke-width="2.6" stroke-linejoin="round"/>
<path d="M1796.8,926 V941" fill="none" stroke="#1F2D35" stroke-width="6" stroke-linejoin="round"/>
<path d="M1796.8,926 V941" fill="none" stroke="#1565B5" stroke-width="2.6" stroke-linejoin="round"/>
<path d="M1826.2,926 V941" fill="none" stroke="#1F2D35" stroke-width="6" stroke-linejoin="round"/>
<path d="M1826.2,926 V941" fill="none" stroke="#1565B5" stroke-width="2.6" stroke-linejoin="round"/>
<path d="M1855.6,926 V941" fill="none" stroke="#1F2D35" stroke-width="6" stroke-linejoin="round"/>
<path d="M1855.6,926 V941" fill="none" stroke="#1565B5" stroke-width="2.6" stroke-linejoin="round"/>
<path d="M2046.4,947 V931.7 Q2046.4,923.7 2054.4,923.7 H2218 Q2226,923.7 2226,931.7 V962" fill="none" stroke="#1F2D35" stroke-width="8.8" stroke-linejoin="round"/>
<path d="M2046.4,947 V931.7 Q2046.4,923.7 2054.4,923.7 H2218 Q2226,923.7 2226,931.7 V962" fill="none" stroke="#1565B5" stroke-width="4.5" stroke-linejoin="round"/>
<rect x="1601.8" y="1023.5" width="330.2" height="10.0" fill="#1A3046" />
<rect x="1601.8" y="1026.0" width="330.2" height="6.5" fill="#1862B4" />
<rect x="1605.0" y="938.0" width="285.0" height="85.5" fill="#1763B4" />
<rect x="1605.0" y="940.0" width="6.0" height="82.0" fill="#14283A" opacity="0.9"/>
<rect x="1619.0" y="940.0" width="15.0" height="82.0" fill="#14283A" opacity="0.6"/>
<rect x="1648.0" y="940.0" width="12.0" height="82.0" fill="#14283A" opacity="0.75"/>
<rect x="1672.0" y="940.0" width="18.0" height="82.0" fill="#14283A" opacity="0.5"/>
<rect x="1700.0" y="940.0" width="22.0" height="82.0" fill="#14283A" opacity="0.8"/>
<rect x="1735.0" y="940.0" width="15.0" height="82.0" fill="#14283A" opacity="0.55"/>
<rect x="1760.0" y="940.0" width="40.0" height="82.0" fill="#14283A" opacity="0.8"/>
<rect x="1817.0" y="940.0" width="15.0" height="82.0" fill="#14283A" opacity="0.75"/>
<rect x="1842.0" y="940.0" width="20.0" height="82.0" fill="#14283A" opacity="0.8"/>
<rect x="1868.0" y="940.0" width="12.0" height="82.0" fill="#14283A" opacity="0.6"/>
<rect x="1884.0" y="940.0" width="6.0" height="82.0" fill="#14283A" opacity="0.9"/>
<rect x="1605.0" y="938.0" width="285.0" height="4.0" fill="#18344C" />
<line x1="1620.4" y1="940.0" x2="1620.4" y2="1022.0" stroke="#16283A" stroke-width="2.2" />
<line x1="1623.4" y1="940.0" x2="1623.4" y2="1022.0" stroke="#2C86D6" stroke-width="1.3" />
<line x1="1649.8" y1="940.0" x2="1649.8" y2="1022.0" stroke="#16283A" stroke-width="2.2" />
<line x1="1652.8" y1="940.0" x2="1652.8" y2="1022.0" stroke="#2C86D6" stroke-width="1.3" />
<line x1="1679.2" y1="940.0" x2="1679.2" y2="1022.0" stroke="#16283A" stroke-width="2.2" />
<line x1="1682.2" y1="940.0" x2="1682.2" y2="1022.0" stroke="#2C86D6" stroke-width="1.3" />
<line x1="1708.6" y1="940.0" x2="1708.6" y2="1022.0" stroke="#16283A" stroke-width="2.2" />
<line x1="1711.6" y1="940.0" x2="1711.6" y2="1022.0" stroke="#2C86D6" stroke-width="1.3" />
<line x1="1738.0" y1="940.0" x2="1738.0" y2="1022.0" stroke="#16283A" stroke-width="2.2" />
<line x1="1741.0" y1="940.0" x2="1741.0" y2="1022.0" stroke="#2C86D6" stroke-width="1.3" />
<line x1="1767.4" y1="940.0" x2="1767.4" y2="1022.0" stroke="#16283A" stroke-width="2.2" />
<line x1="1770.4" y1="940.0" x2="1770.4" y2="1022.0" stroke="#2C86D6" stroke-width="1.3" />
<line x1="1796.8" y1="940.0" x2="1796.8" y2="1022.0" stroke="#16283A" stroke-width="2.2" />
<line x1="1799.8" y1="940.0" x2="1799.8" y2="1022.0" stroke="#2C86D6" stroke-width="1.3" />
<line x1="1826.2" y1="940.0" x2="1826.2" y2="1022.0" stroke="#16283A" stroke-width="2.2" />
<line x1="1829.2" y1="940.0" x2="1829.2" y2="1022.0" stroke="#2C86D6" stroke-width="1.3" />
<line x1="1855.6" y1="940.0" x2="1855.6" y2="1022.0" stroke="#16283A" stroke-width="2.2" />
<line x1="1858.6" y1="940.0" x2="1858.6" y2="1022.0" stroke="#2C86D6" stroke-width="1.3" />
<rect x="1596.6" y="945.7" width="8.9" height="68.3" fill="#E8441E" />
<rect x="1598.5" y="985.0" width="4.5" height="27.0" fill="#F9A825" />
<line x1="1592.3" y1="966.0" x2="1592.3" y2="997.0" stroke="#C0502A" stroke-width="1.6" />
<rect x="1890.0" y="947.0" width="12.5" height="62.0" fill="#1F2D35" />
<rect x="1902.0" y="967.5" width="30.0" height="18.5" fill="#1F2D35" />
<rect x="1902.0" y="970.5" width="30.0" height="12.5" fill="#1565B5" />
<rect x="1921.0" y="964.0" width="7.7" height="23.6" fill="#1F2D35" />
<path d="M1706,820 H1684 Q1676,820 1676,828 V1022" fill="none" stroke="#1F2D35" stroke-width="6.2" stroke-linejoin="round"/>
<path d="M1706,820 H1684 Q1676,820 1676,828 V1022" fill="none" stroke="#1565B5" stroke-width="2.4" stroke-linejoin="round"/>
<path d="M1780,820 H1801.4 Q1809.4,820 1809.4,828 V1022" fill="none" stroke="#1F2D35" stroke-width="6.2" stroke-linejoin="round"/>
<path d="M1780,820 H1801.4 Q1809.4,820 1809.4,828 V1022" fill="none" stroke="#1565B5" stroke-width="2.4" stroke-linejoin="round"/>
<path d="M1708,839 H1700 Q1693,839 1693,846 V1022" fill="none" stroke="#1F2D35" stroke-width="6.2" stroke-linejoin="round"/>
<path d="M1708,839 H1700 Q1693,839 1693,846 V1022" fill="none" stroke="#1565B5" stroke-width="2.4" stroke-linejoin="round"/>
<path d="M1778,839 H1788.5 Q1795.5,839 1795.5,846 V1022" fill="none" stroke="#1F2D35" stroke-width="6.2" stroke-linejoin="round"/>
<path d="M1778,839 H1788.5 Q1795.5,839 1795.5,846 V1022" fill="none" stroke="#1565B5" stroke-width="2.4" stroke-linejoin="round"/>
<path d="M1701.5,807 H1784 V852 Q1782,875 1755,896 H1731 Q1703.5,875 1701.5,852 Z" fill="#1F2D35" stroke="none" stroke-width="1" />
<path d="M1704.5,810 H1781 V851 Q1779,873 1753,893.5 H1733 Q1706.5,873 1704.5,851 Z" fill="url(#cylG)" stroke="none" stroke-width="1" />
<path d="M1704.5,810 H1717 V876 Q1706.5,866 1704.5,851 Z" fill="#133F76" stroke="none" stroke-width="1" opacity="0.7"/>
<path d="M1721,826 V1022" fill="none" stroke="#1F2D35" stroke-width="5.6" stroke-linejoin="round"/>
<path d="M1721,826 V1022" fill="none" stroke="#1565B5" stroke-width="2.2" stroke-linejoin="round"/>
<path d="M1764.5,826 V1022" fill="none" stroke="#1F2D35" stroke-width="5.6" stroke-linejoin="round"/>
<path d="M1764.5,826 V1022" fill="none" stroke="#1565B5" stroke-width="2.2" stroke-linejoin="round"/>
<rect x="1736.0" y="894.0" width="16.0" height="46.0" fill="#1F2D35" />
<rect x="1739.0" y="903.0" width="10.0" height="13.0" fill="#1565B5" />
<rect x="1740.0" y="928.0" width="8.0" height="10.0" fill="#1565B5" />
<rect x="1731.0" y="897.0" width="26.0" height="5.0" fill="#1F2D35" />
<rect x="1731.0" y="922.0" width="26.0" height="6.0" fill="#1F2D35" />
<rect x="1753.0" y="903.0" width="5.5" height="8.0" fill="#E04A2A" />
<rect x="1931.0" y="944.5" width="141.0" height="58.0" fill="#163A60" />
<rect x="1932.5" y="946.0" width="138.0" height="55.0" fill="url(#hcylG)" />
<rect x="1933.6" y="1003.0" width="137.4" height="33.0" fill="#1F2D35" />
<rect x="1939.0" y="1008.0" width="29.5" height="23.0" fill="#FFFFFF" />
<line x1="1939.0" y1="1008.0" x2="1968.5" y2="1031.0" stroke="#1F2D35" stroke-width="3.6" />
<line x1="1968.5" y1="1008.0" x2="1939.0" y2="1031.0" stroke="#1F2D35" stroke-width="3.6" />
<rect x="1971.5" y="1008.0" width="30.0" height="23.0" fill="#FFFFFF" />
<line x1="1971.5" y1="1008.0" x2="2001.5" y2="1031.0" stroke="#1F2D35" stroke-width="3.6" />
<line x1="2001.5" y1="1008.0" x2="1971.5" y2="1031.0" stroke="#1F2D35" stroke-width="3.6" />
<rect x="2004.5" y="1008.0" width="30.0" height="23.0" fill="#FFFFFF" />
<line x1="2004.5" y1="1008.0" x2="2034.5" y2="1031.0" stroke="#1F2D35" stroke-width="3.6" />
<line x1="2034.5" y1="1008.0" x2="2004.5" y2="1031.0" stroke="#1F2D35" stroke-width="3.6" />
<rect x="2037.5" y="1008.0" width="28.5" height="23.0" fill="#FFFFFF" />
<line x1="2037.5" y1="1008.0" x2="2066.0" y2="1031.0" stroke="#1F2D35" stroke-width="3.6" />
<line x1="2066.0" y1="1008.0" x2="2037.5" y2="1031.0" stroke="#1F2D35" stroke-width="3.6" />
<circle cx="1975" cy="1018" r="10.5" fill="#1F2D35"/>
<path d="M2137.8,650 H2170.3 V975 Q2170.3,998 2140,998 L2120,962 Q2137.8,956 2137.8,940 Z" fill="url(#chim2G)" stroke="none" stroke-width="1" />
<rect x="2137.8" y="650.0" width="32.5" height="300.0" fill="url(#chim2G)" />
<path d="M2111.8,643.5 Q2140,628 2153.8,621.7 Q2168,628 2195.8,643.5 Z" fill="url(#capG)" stroke="none" stroke-width="1" />
<line x1="2144.0" y1="643.5" x2="2144.0" y2="650.0" stroke="#7C93A8" stroke-width="1.5" />
<line x1="2163.0" y1="643.5" x2="2163.0" y2="650.0" stroke="#7C93A8" stroke-width="1.5" />
<ellipse cx="2124" cy="974" rx="44" ry="26" fill="#1B64B4"/>
<ellipse cx="2126" cy="981" rx="34" ry="19.5" fill="#1F3140"/>
<circle cx="2124" cy="979.8" r="13.5" fill="#D8E2EA" stroke="#1A1F26" stroke-width="2"/>
<circle cx="2124" cy="979.8" r="8" fill="none" stroke="#59646E" stroke-width="2.5" stroke-dasharray="2 2"/>
<circle cx="2124" cy="979.8" r="4" fill="#1A1F26"/>
<rect x="2070.0" y="972.0" width="16.0" height="11.0" fill="#1565B5" />
<rect x="2083.6" y="996.9" width="85.2" height="22.1" fill="#1F2D35" />
<line x1="2088.0" y1="1000.5" x2="2124.0" y2="1015.5" stroke="#1C74CC" stroke-width="3" />
<line x1="2124.0" y1="1000.5" x2="2088.0" y2="1015.5" stroke="#1C74CC" stroke-width="3" />
<line x1="2128.0" y1="1000.5" x2="2164.0" y2="1015.5" stroke="#1C74CC" stroke-width="3" />
<line x1="2164.0" y1="1000.5" x2="2128.0" y2="1015.5" stroke="#1C74CC" stroke-width="3" />
<rect x="2096.0" y="1019.0" width="60.4" height="16.5" fill="url(#brick)" />
<ellipse cx="2209" cy="977.5" rx="25" ry="15.5" fill="#1B64B4"/>
<ellipse cx="2209" cy="981.5" rx="19" ry="11" fill="#1F3140"/>
<circle cx="2209" cy="981.4" r="7.6" fill="#E6ECF0" stroke="#1A1F26" stroke-width="1.6"/>
<circle cx="2209" cy="981.4" r="3" fill="#1A1F26"/>
<rect x="2221.0" y="958.0" width="10.5" height="18.0" fill="#1A4E8C" />
<rect x="2179.6" y="990.7" width="57.4" height="14.3" fill="#1F2D35" />
<line x1="2184.0" y1="993.5" x2="2207.0" y2="1002.5" stroke="#1C74CC" stroke-width="2.4" />
<line x1="2207.0" y1="993.5" x2="2184.0" y2="1002.5" stroke="#1C74CC" stroke-width="2.4" />
<line x1="2210.0" y1="993.5" x2="2233.0" y2="1002.5" stroke="#1C74CC" stroke-width="2.4" />
<line x1="2233.0" y1="993.5" x2="2210.0" y2="1002.5" stroke="#1C74CC" stroke-width="2.4" />
<rect x="2185.8" y="1005.0" width="44.9" height="30.5" fill="url(#brick)" />
<line x1="248.0" y1="1036.0" x2="2254.0" y2="1036.8" stroke="#1c1c1c" stroke-width="2.2" />
<text x="743.0" y="615.9" font-size="13.6" fill="#151515" font-family='"Liberation Sans","Noto Sans CJK SC",sans-serif' font-weight="500" textLength="74.5" lengthAdjust="spacingAndGlyphs">加煤系统</text>
<text x="721.0" y="626.4" font-size="9.4" fill="#151515" font-family='"Liberation Sans","Noto Sans CJK SC",sans-serif' font-weight="400" textLength="115.7" lengthAdjust="spacingAndGlyphs">coal feeding system</text>
<line x1="788.0" y1="630.0" x2="788.0" y2="699.0" stroke="#7A7430" stroke-width="1.5" />
<text x="1047.0" y="630.5" font-size="13.6" fill="#151515" font-family='"Liberation Sans","Noto Sans CJK SC",sans-serif' font-weight="500" textLength="36.0" lengthAdjust="spacingAndGlyphs">铁梯</text>
<text x="1091.0" y="629.5" font-size="10.5" fill="#151515" font-family='"Liberation Sans","Noto Sans CJK SC",sans-serif' font-weight="400" textLength="64.0" lengthAdjust="spacingAndGlyphs">iron ladder</text>
<line x1="892.0" y1="623.5" x2="1043.0" y2="623.5" stroke="#6A7278" stroke-width="1.4" />
<text x="999.0" y="656.3" font-size="13.6" fill="#151515" font-family='"Liberation Sans","Noto Sans CJK SC",sans-serif' font-weight="500" textLength="50.7" lengthAdjust="spacingAndGlyphs">钟罩阀</text>
<text x="1051.0" y="655.5" font-size="10.5" fill="#151515" font-family='"Liberation Sans","Noto Sans CJK SC",sans-serif' font-weight="400" textLength="70.0" lengthAdjust="spacingAndGlyphs">valve cover</text>
<line x1="1019.5" y1="660.0" x2="1019.5" y2="716.0" stroke="#7A7430" stroke-width="1.5" />
<text x="348.4" y="693.7" font-size="13.6" fill="#151515" font-family='"Liberation Sans","Noto Sans CJK SC",sans-serif' font-weight="500" textLength="80.4" lengthAdjust="spacingAndGlyphs">屋架立撑</text>
<text x="335.5" y="702.9" font-size="9.4" fill="#151515" font-family='"Liberation Sans","Noto Sans CJK SC",sans-serif' font-weight="400" textLength="102.5" lengthAdjust="spacingAndGlyphs">supporting beam</text>
<line x1="439.0" y1="689.7" x2="597.0" y2="689.7" stroke="#6A7278" stroke-width="1.3" />
<text x="342.0" y="754.9" font-size="13.6" fill="#151515" font-family='"Liberation Sans","Noto Sans CJK SC",sans-serif' font-weight="500" textLength="90.0" lengthAdjust="spacingAndGlyphs">三层扶栏杆</text>
<text x="362.8" y="764.9" font-size="9.4" fill="#151515" font-family='"Liberation Sans","Noto Sans CJK SC",sans-serif' font-weight="400" textLength="52.6" lengthAdjust="spacingAndGlyphs">handrail</text>
<line x1="439.0" y1="748.6" x2="633.0" y2="748.6" stroke="#6A7278" stroke-width="1.3" />
<text x="482.0" y="800.4" font-size="13.6" fill="#151515" font-family='"Liberation Sans","Noto Sans CJK SC",sans-serif' font-weight="500" textLength="36.0" lengthAdjust="spacingAndGlyphs">汽包</text>
<text x="456.0" y="810.9" font-size="9.4" fill="#151515" font-family='"Liberation Sans","Noto Sans CJK SC",sans-serif' font-weight="400" textLength="81.5" lengthAdjust="spacingAndGlyphs">gas enclosure</text>
<line x1="525.5" y1="795.5" x2="669.0" y2="795.5" stroke="#6A7278" stroke-width="1.3" />
<text x="820.0" y="829.9" font-size="13.6" fill="#151515" font-family='"Liberation Sans","Noto Sans CJK SC",sans-serif' font-weight="500" textLength="33.4" lengthAdjust="spacingAndGlyphs">马达</text>
<text x="820.0" y="840.4" font-size="9.4" fill="#151515" font-family='"Liberation Sans","Noto Sans CJK SC",sans-serif' font-weight="400" textLength="36.0" lengthAdjust="spacingAndGlyphs">motor</text>
<line x1="809.0" y1="825.0" x2="819.0" y2="825.0" stroke="#6A7278" stroke-width="1.2" />
<text x="298.0" y="886.6" font-size="13.6" fill="#151515" font-family='"Liberation Sans","Noto Sans CJK SC",sans-serif' font-weight="500" textLength="57.6" lengthAdjust="spacingAndGlyphs">控制器</text>
<text x="297.0" y="899.4" font-size="9.4" fill="#151515" font-family='"Liberation Sans","Noto Sans CJK SC",sans-serif' font-weight="400" textLength="56.0" lengthAdjust="spacingAndGlyphs">controller</text>
<line x1="323.5" y1="902.0" x2="323.5" y2="970.0" stroke="#7A7430" stroke-width="1.5" />
<text x="413.0" y="886.6" font-size="13.6" fill="#151515" font-family='"Liberation Sans","Noto Sans CJK SC",sans-serif' font-weight="500" textLength="55.0" lengthAdjust="spacingAndGlyphs">传输带</text>
<text x="382.0" y="899.4" font-size="9.4" fill="#151515" font-family='"Liberation Sans","Noto Sans CJK SC",sans-serif' font-weight="400" textLength="110.0" lengthAdjust="spacingAndGlyphs">transmission band</text>
<line x1="475.0" y1="882.6" x2="528.0" y2="882.6" stroke="#7A7430" stroke-width="1.4" />
<text x="619.0" y="926.9" font-size="13.6" fill="#151515" font-family='"Liberation Sans","Noto Sans CJK SC",sans-serif' font-weight="500" textLength="74.0" lengthAdjust="spacingAndGlyphs">蒸汽管道</text>
<text x="626.0" y="937.4" font-size="9.4" fill="#151515" font-family='"Liberation Sans","Noto Sans CJK SC",sans-serif' font-weight="400" textLength="64.7" lengthAdjust="spacingAndGlyphs">steam pipe</text>
<line x1="657.6" y1="882.0" x2="657.6" y2="912.0" stroke="#7A7430" stroke-width="1.5" />
<text x="432.0" y="949.9" font-size="13.6" fill="#151515" font-family='"Liberation Sans","Noto Sans CJK SC",sans-serif' font-weight="500" textLength="29.0" lengthAdjust="spacingAndGlyphs">煤斗</text>
<text x="403.4" y="961.2" font-size="9.4" fill="#151515" font-family='"Liberation Sans","Noto Sans CJK SC",sans-serif' font-weight="400" textLength="70.4" lengthAdjust="spacingAndGlyphs">coal hopper</text>
<line x1="445.6" y1="964.0" x2="445.6" y2="1022.0" stroke="#444" stroke-width="1.3" />
<text x="1189.5" y="748.7" font-size="13.6" fill="#151515" font-family='"Liberation Sans","Noto Sans CJK SC",sans-serif' font-weight="500" textLength="94.5" lengthAdjust="spacingAndGlyphs">重力除尘器</text>
<text x="1176.5" y="761.4" font-size="9.4" fill="#151515" font-family='"Liberation Sans","Noto Sans CJK SC",sans-serif' font-weight="400" textLength="128.5" lengthAdjust="spacingAndGlyphs">gravity dust collector</text>
<line x1="1237.8" y1="765.0" x2="1237.8" y2="876.0" stroke="#7A7430" stroke-width="1.5" />
<text x="1366.0" y="749.9" font-size="13.6" fill="#151515" font-family='"Liberation Sans","Noto Sans CJK SC",sans-serif' font-weight="500" textLength="93.0" lengthAdjust="spacingAndGlyphs">旋风除尘器</text>
<text x="1348.0" y="760.4" font-size="9.4" fill="#151515" font-family='"Liberation Sans","Noto Sans CJK SC",sans-serif' font-weight="400" textLength="133.0" lengthAdjust="spacingAndGlyphs">cyclone dust collector</text>
<line x1="1414.0" y1="765.0" x2="1414.0" y2="873.0" stroke="#7A7430" stroke-width="1.5" />
<text x="1724.0" y="748.9" font-size="13.6" fill="#151515" font-family='"Liberation Sans","Noto Sans CJK SC",sans-serif' font-weight="500" textLength="94.0" lengthAdjust="spacingAndGlyphs">储气分配罐</text>
<text x="1711.0" y="760.4" font-size="9.4" fill="#151515" font-family='"Liberation Sans","Noto Sans CJK SC",sans-serif' font-weight="400" textLength="109.5" lengthAdjust="spacingAndGlyphs">air allocating tank</text>
<line x1="1771.5" y1="765.0" x2="1771.5" y2="819.0" stroke="#7A7430" stroke-width="1.5" />
<text x="1575.0" y="857.9" font-size="13.6" fill="#151515" font-family='"Liberation Sans","Noto Sans CJK SC",sans-serif' font-weight="500" textLength="90.6" lengthAdjust="spacingAndGlyphs">热空气管道</text>
<text x="1585.6" y="869.1" font-size="9.4" fill="#151515" font-family='"Liberation Sans","Noto Sans CJK SC",sans-serif' font-weight="400" textLength="64.4" lengthAdjust="spacingAndGlyphs">hot air pipe</text>
<line x1="1631.0" y1="872.0" x2="1631.0" y2="920.0" stroke="#7A7430" stroke-width="1.5" />
<text x="441.7" y="1089.5" font-size="13.6" fill="#151515" font-family='"Liberation Sans","Noto Sans CJK SC",sans-serif' font-weight="500" textLength="114.9" lengthAdjust="spacingAndGlyphs">可调节鼓风机</text>
<text x="431.0" y="1101.4" font-size="9.4" fill="#151515" font-family='"Liberation Sans","Noto Sans CJK SC",sans-serif' font-weight="400" textLength="127.0" lengthAdjust="spacingAndGlyphs">adjustable air blower</text>
<line x1="507.3" y1="1037.0" x2="507.3" y2="1072.0" stroke="#7A7430" stroke-width="1.5" />
<text x="571.0" y="1089.5" font-size="13.6" fill="#151515" font-family='"Liberation Sans","Noto Sans CJK SC",sans-serif' font-weight="500" textLength="55.0" lengthAdjust="spacingAndGlyphs">止回阀</text>
<text x="568.6" y="1101.4" font-size="9.4" fill="#151515" font-family='"Liberation Sans","Noto Sans CJK SC",sans-serif' font-weight="400" textLength="71.8" lengthAdjust="spacingAndGlyphs">check valve</text>
<line x1="590.0" y1="1004.0" x2="590.0" y2="1072.0" stroke="#7A7430" stroke-width="1.5" />
<text x="693.0" y="1089.5" font-size="13.6" fill="#151515" font-family='"Liberation Sans","Noto Sans CJK SC",sans-serif' font-weight="500" textLength="94.8" lengthAdjust="spacingAndGlyphs">煤气发生炉</text>
<text x="669.0" y="1101.4" font-size="9.4" fill="#151515" font-family='"Liberation Sans","Noto Sans CJK SC",sans-serif' font-weight="400" textLength="135.0" lengthAdjust="spacingAndGlyphs">gas generating furnace</text>
<line x1="736.0" y1="1037.0" x2="736.0" y2="1072.0" stroke="#7A7430" stroke-width="1.5" />
<text x="815.0" y="1089.5" font-size="13.6" fill="#151515" font-family='"Liberation Sans","Noto Sans CJK SC",sans-serif' font-weight="500" textLength="36.0" lengthAdjust="spacingAndGlyphs">马达</text>
<text x="816.0" y="1101.4" font-size="9.4" fill="#151515" font-family='"Liberation Sans","Noto Sans CJK SC",sans-serif' font-weight="400" textLength="32.6" lengthAdjust="spacingAndGlyphs">motor</text>
<line x1="817.5" y1="1037.0" x2="817.5" y2="1072.0" stroke="#7A7430" stroke-width="1.5" />
<text x="920.4" y="1090.5" font-size="13.6" fill="#151515" font-family='"Liberation Sans","Noto Sans CJK SC",sans-serif' font-weight="500" textLength="74.2" lengthAdjust="spacingAndGlyphs">排空烟囱</text>
<text x="884.5" y="1101.4" font-size="9.4" fill="#151515" font-family='"Liberation Sans","Noto Sans CJK SC",sans-serif' font-weight="400" textLength="135.0" lengthAdjust="spacingAndGlyphs">air discharging chimney</text>
<line x1="954.0" y1="1037.0" x2="954.0" y2="1072.0" stroke="#7A7430" stroke-width="1.5" />
<text x="1040.0" y="1087.5" font-size="13.6" fill="#151515" font-family='"Liberation Sans","Noto Sans CJK SC",sans-serif' font-weight="500" textLength="72.0" lengthAdjust="spacingAndGlyphs">放空水箱</text>
<text x="1033.0" y="1101.4" font-size="9.4" fill="#151515" font-family='"Liberation Sans","Noto Sans CJK SC",sans-serif' font-weight="400" textLength="134.0" lengthAdjust="spacingAndGlyphs">water discharging tank</text>
<line x1="1066.4" y1="1037.0" x2="1066.4" y2="1070.0" stroke="#7A7430" stroke-width="1.5" />
<text x="1236.0" y="1091.5" font-size="13.6" fill="#151515" font-family='"Liberation Sans","Noto Sans CJK SC",sans-serif' font-weight="500" textLength="55.5" lengthAdjust="spacingAndGlyphs">水封槽</text>
<text x="1219.6" y="1103.4" font-size="9.4" fill="#151515" font-family='"Liberation Sans","Noto Sans CJK SC",sans-serif' font-weight="400" textLength="90.4" lengthAdjust="spacingAndGlyphs">water seal tank</text>
<line x1="1260.0" y1="1037.0" x2="1260.0" y2="1072.0" stroke="#7A7430" stroke-width="1.5" />
<text x="1405.0" y="1090.5" font-size="13.6" fill="#151515" font-family='"Liberation Sans","Noto Sans CJK SC",sans-serif' font-weight="500" textLength="55.7" lengthAdjust="spacingAndGlyphs">水封槽</text>
<line x1="1431.8" y1="1037.0" x2="1431.8" y2="1069.0" stroke="#7A7430" stroke-width="1.5" />
<text x="1833.5" y="1090.5" font-size="13.6" fill="#151515" font-family='"Liberation Sans","Noto Sans CJK SC",sans-serif' font-weight="500" textLength="34.5" lengthAdjust="spacingAndGlyphs">窑炉</text>
<text x="1838.6" y="1100.4" font-size="9.4" fill="#151515" font-family='"Liberation Sans","Noto Sans CJK SC",sans-serif' font-weight="400" textLength="23.4" lengthAdjust="spacingAndGlyphs">kiln</text>
<line x1="1848.0" y1="1037.0" x2="1848.0" y2="1070.0" stroke="#7A7430" stroke-width="1.5" />
<text x="1958.4" y="1090.5" font-size="13.6" fill="#151515" font-family='"Liberation Sans","Noto Sans CJK SC",sans-serif' font-weight="500" textLength="110.0" lengthAdjust="spacingAndGlyphs">空气热交换器</text>
<text x="1957.4" y="1101.4" font-size="9.4" fill="#151515" font-family='"Liberation Sans","Noto Sans CJK SC",sans-serif' font-weight="400" textLength="107.4" lengthAdjust="spacingAndGlyphs">air heat exchanger</text>
<line x1="2001.3" y1="1037.0" x2="2001.3" y2="1070.0" stroke="#7A7430" stroke-width="1.5" />
<text x="2096.8" y="1087.9" font-size="13.6" fill="#151515" font-family='"Liberation Sans","Noto Sans CJK SC",sans-serif' font-weight="500" textLength="55.8" lengthAdjust="spacingAndGlyphs">引风机</text>
<text x="2077.7" y="1099.4" font-size="9.4" fill="#151515" font-family='"Liberation Sans","Noto Sans CJK SC",sans-serif' font-weight="400" textLength="99.1" lengthAdjust="spacingAndGlyphs">induced draft fan</text>
<line x1="2124.0" y1="1037.0" x2="2124.0" y2="1068.0" stroke="#7A7430" stroke-width="1.5" />
<text x="2187.0" y="1086.4" font-size="13.6" fill="#151515" font-family='"Liberation Sans","Noto Sans CJK SC",sans-serif' font-weight="500" textLength="74.0" lengthAdjust="spacingAndGlyphs">助燃风机</text>
<text x="2188.7" y="1099.4" font-size="9.4" fill="#151515" font-family='"Liberation Sans","Noto Sans CJK SC",sans-serif' font-weight="400" textLength="91.3" lengthAdjust="spacingAndGlyphs">combustion fan</text>
<line x1="2209.4" y1="1037.0" x2="2209.4" y2="1067.0" stroke="#7A7430" stroke-width="1.5" />
</g>
<g filter="url(#soft)">
<defs>
<pattern id="hatch" width="7" height="7" patternUnits="userSpaceOnUse" patternTransform="rotate(-50)"><rect width="7" height="7" fill="#2A2A22"/><rect width="7" height="2.3" fill="#8C6A22"/></pattern>
<pattern id="dotW" width="9" height="9" patternUnits="userSpaceOnUse"><rect width="9" height="9" fill="#E4ECFF"/><circle cx="2.25" cy="2.25" r="2.1" fill="#1E2B3A"/><circle cx="6.75" cy="6.75" r="2.1" fill="#1E2B3A"/></pattern>
<pattern id="dotP" width="9" height="9" patternUnits="userSpaceOnUse"><rect width="9" height="9" fill="#E8587C"/><circle cx="2.25" cy="2.25" r="2.0" fill="#3A1A2A"/><circle cx="6.75" cy="6.75" r="2.0" fill="#3A1A2A"/></pattern>
<pattern id="dotY" width="9" height="9" patternUnits="userSpaceOnUse"><rect width="9" height="9" fill="#F2C81E"/><circle cx="2.25" cy="2.25" r="2.0" fill="#3A2E12"/><circle cx="6.75" cy="6.75" r="2.0" fill="#3A2E12"/></pattern>
<pattern id="dotG" width="9" height="9" patternUnits="userSpaceOnUse"><rect width="9" height="9" fill="#212F33"/><circle cx="2.25" cy="2.25" r="2.3" fill="#6F8484"/><circle cx="6.75" cy="6.75" r="2.3" fill="#6F8484"/></pattern>
</defs>
<polygon points="270.5,1142.3 1256.3,1145.4 1252.3,1649.2 266.6,1645.1" fill="#212F33" />
<polygon points="327.5,1491.5 844.0,1492.4 793.0,1582.3 377.4,1582.3" fill="url(#dotG)" stroke="#F0D21E" stroke-width="2.4" stroke-linejoin="round"/>
<rect x="455.6" y="1478.7" width="260.4" height="61.3" fill="url(#dotG)" />
<rect x="455.6" y="1293.0" width="260.4" height="84.0" fill="url(#dotW)" />
<rect x="455.6" y="1377.0" width="260.4" height="64.7" fill="url(#dotP)" />
<rect x="455.6" y="1441.7" width="260.4" height="37.0" fill="url(#dotY)" />
<path d="M418.7,1173.4 H540.8 V1213.6 H455.6 V1336.7 H418.7 Z" fill="url(#hatch)" stroke="none" stroke-width="1" />
<path d="M633,1173.4 H756 V1192.3 H798.8 V1275 H756 V1336.7 H716 V1256 H794 V1218.3 H716 V1213.6 H633 Z" fill="url(#hatch)" stroke="none" stroke-width="1" />
<rect x="418.7" y="1336.7" width="36.9" height="196.3" fill="#212F33" />
<rect x="716.0" y="1336.7" width="40.0" height="196.3" fill="#212F33" />
<rect x="540.8" y="1187.6" width="92.2" height="26.0" fill="#212F33" />
<path d="M418.7,1533 V1173.4 H540.8 V1187.6 H633 V1173.4 H756 V1192.3 H798.8 V1275 H756 V1533 H716 V1256 H794" fill="none" stroke="#F0D21E" stroke-width="2.4" stroke-linejoin="round"/>
<path d="M418.7,1533 H455.6 V1213.6 H697" fill="none" stroke="#F0D21E" stroke-width="2.4" stroke-linejoin="round"/>
<path d="M794,1218.3 H714 Q697,1218.3 697,1236 Q697,1253.8 714,1253.8 H794 Z" fill="#212F33" stroke="#F0D21E" stroke-width="2.4" />
<line x1="540.8" y1="1187.6" x2="540.8" y2="1213.6" stroke="#F0D21E" stroke-width="2.4" />
<line x1="633.0" y1="1187.6" x2="633.0" y2="1213.6" stroke="#F0D21E" stroke-width="2.4" />
<path d="M539.6,1558.6 L515.9,1581.5 L537,1601 V1616 H575.8 V1640.9 H594.5 V1616 H633 V1601 L653,1581.5 L632,1558.6 Z" fill="#212F33" stroke="#F0D21E" stroke-width="2.4" stroke-linejoin="round"/>
<rect x="539.6" y="1511.2" width="92.4" height="46.6" rx="4" fill="#212F33" stroke="#F0D21E" stroke-width="2.4"/>
<path d="M547,1558.6 L568.3,1579.8 V1599.8 H575.8 M624.4,1558.6 L603.2,1579.8 V1599.8 H594.5" fill="none" stroke="#F0D21E" stroke-width="2.2" stroke-linejoin="round"/>
<rect x="575.8" y="1582.3" width="18.7" height="58.6" rx="3" fill="#212F33" stroke="#F0D21E" stroke-width="2.4"/>
<text x="550.0" y="1258.0" font-size="33" fill="#FFFFFF" font-family='"Liberation Serif","Noto Serif CJK SC",serif' font-weight="700" textLength="90.0" lengthAdjust="spacingAndGlyphs">空层</text>
<text x="511.5" y="1284.6" font-size="30" fill="#FFFFFF" font-family='"Liberation Serif","Noto Serif CJK SC",serif' font-weight="400" textLength="175.0" lengthAdjust="spacingAndGlyphs">empty layer</text>
<line x1="668.6" y1="1314.0" x2="865.6" y2="1314.0" stroke="#62CFCF" stroke-width="5.2" />
<polygon points="860.6,1304.5 881.6,1314.0 860.6,1323.5" fill="#62CFCF" />
<line x1="668.6" y1="1357.0" x2="865.6" y2="1357.0" stroke="#62CFCF" stroke-width="5.2" />
<polygon points="860.6,1347.5 881.6,1357.0 860.6,1366.5" fill="#62CFCF" />
<line x1="668.6" y1="1412.4" x2="865.6" y2="1412.4" stroke="#62CFCF" stroke-width="5.2" />
<polygon points="860.6,1402.9 881.6,1412.4 860.6,1421.9" fill="#62CFCF" />
<line x1="668.6" y1="1463.5" x2="865.6" y2="1463.5" stroke="#62CFCF" stroke-width="5.2" />
<polygon points="860.6,1454.0 881.6,1463.5 860.6,1473.0" fill="#62CFCF" />
<line x1="777.5" y1="1537.8" x2="865.6" y2="1537.8" stroke="#62CFCF" stroke-width="5.2" />
<polygon points="860.6,1528.3 881.6,1537.8 860.6,1547.3" fill="#62CFCF" />
<text x="887.3" y="1327.5" font-size="35" fill="#FFFFFF" font-family='"Liberation Serif","Noto Serif CJK SC",serif' font-weight="600" textLength="137.1" lengthAdjust="spacingAndGlyphs">干燥层</text>
<text x="1036.8" y="1323.5" font-size="28" fill="#FFFFFF" font-family='"Liberation Serif","Noto Serif CJK SC",serif' font-weight="400" textLength="176.6" lengthAdjust="spacingAndGlyphs">drying layer</text>
<text x="887.3" y="1373.0" font-size="36" fill="#FFFFFF" font-family='"Liberation Serif","Noto Serif CJK SC",serif' font-weight="600" textLength="138.7" lengthAdjust="spacingAndGlyphs">干馏层</text>
<text x="1036.8" y="1351.4" font-size="20" fill="#FFFFFF" font-family='"Liberation Serif","Noto Serif CJK SC",serif' font-weight="400" textLength="146.4" lengthAdjust="spacingAndGlyphs">destructive</text>
<text x="1036.8" y="1376.4" font-size="20" fill="#FFFFFF" font-family='"Liberation Serif","Noto Serif CJK SC",serif' font-weight="400" textLength="208.8" lengthAdjust="spacingAndGlyphs">distillation layer</text>
<text x="887.3" y="1424.0" font-size="37" fill="#E8688A" font-family='"Liberation Serif","Noto Serif CJK SC",serif' font-weight="900" textLength="145.7" lengthAdjust="spacingAndGlyphs">还原层</text>
<text x="1036.8" y="1416.5" font-size="20.5" fill="#E8688A" font-family='"Liberation Serif","Noto Serif CJK SC",serif' font-weight="400" textLength="203.2" lengthAdjust="spacingAndGlyphs">deoxidization layer</text>
<text x="892.0" y="1478.5" font-size="37" fill="#F2E21E" font-family='"Liberation Serif","Noto Serif CJK SC",serif' font-weight="900" textLength="143.0" lengthAdjust="spacingAndGlyphs">氧化层</text>
<text x="1036.8" y="1470.9" font-size="23.5" fill="#F2E21E" font-family='"Liberation Serif","Noto Serif CJK SC",serif' font-weight="400" textLength="209.8" lengthAdjust="spacingAndGlyphs">oxidization layer</text>
<text x="888.4" y="1557.0" font-size="37" fill="#F2E21E" font-family='"Liberation Serif","Noto Serif CJK SC",serif' font-weight="900" textLength="144.6" lengthAdjust="spacingAndGlyphs">灰渣层</text>
<text x="1036.8" y="1554.0" font-size="26.5" fill="#F2E21E" font-family='"Liberation Serif","Noto Serif CJK SC",serif' font-weight="400" textLength="208.8" lengthAdjust="spacingAndGlyphs">lime–ash layer</text>
</g>
<g filter="url(#soft)">
<polygon points="1286.5,1145.7 2269.2,1149.3 2265.8,1653.9 1282.6,1651.0" fill="#213033" />
<circle cx="1266.4" cy="1654.7" r="2.4" fill="#1A6AA8"/>
<g transform="translate(1383.5,1258) scale(1.13,1)"><text font-size="43.5" fill="#F5E61E" font-family='"Liberation Sans","Noto Sans CJK SC",sans-serif' letter-spacing="8.98">燃油锅炉改烧热煤气工艺流程</text></g>
<text x="1375.3" y="1291.8" font-size="28" fill="#F2E21E" font-family='"Liberation Serif","Noto Serif CJK SC",serif' font-weight="400" textLength="844.3" lengthAdjust="spacingAndGlyphs">technical process for substituting the fuel of oil–burning</text>
<text x="1375.3" y="1320.6" font-size="28" fill="#F2E21E" font-family='"Liberation Serif","Noto Serif CJK SC",serif' font-weight="400" textLength="220.7" lengthAdjust="spacingAndGlyphs">boiler with gas</text>
<rect x="1299.0" y="1406.7" width="151.5" height="36.5" fill="#213033" stroke="#E0202C" stroke-width="3"/>
<text x="1307.0" y="1435.2" font-size="30" fill="#86D8F0" font-family='"Liberation Serif","Noto Serif CJK SC",serif' font-weight="400" textLength="63.0" lengthAdjust="spacingAndGlyphs" font-style="italic">空气</text>
<text x="1387.0" y="1434.7" font-size="30" fill="#86D8F0" font-family='"Liberation Serif","Noto Serif CJK SC",serif' font-weight="400" textLength="38.5" lengthAdjust="spacingAndGlyphs">air</text>
<rect x="1489.7" y="1406.7" width="149.8" height="36.5" fill="#213033" stroke="#E0202C" stroke-width="3"/>
<text x="1509.7" y="1435.2" font-size="30" fill="#86D8F0" font-family='"Liberation Serif","Noto Serif CJK SC",serif' font-weight="400" textLength="109.8" lengthAdjust="spacing" font-style="italic">鼓风机</text>
<rect x="1680.3" y="1406.7" width="193.4" height="36.5" fill="#213033" stroke="#E0202C" stroke-width="3"/>
<text x="1688.3" y="1435.2" font-size="30" fill="#86D8F0" font-family='"Liberation Serif","Noto Serif CJK SC",serif' font-weight="400" textLength="177.4" lengthAdjust="spacing" font-style="italic">煤气发生炉</text>
<rect x="1911.9" y="1406.7" width="151.4" height="36.5" fill="#213033" stroke="#E0202C" stroke-width="3"/>
<text x="1931.9" y="1435.2" font-size="30" fill="#86D8F0" font-family='"Liberation Serif","Noto Serif CJK SC",serif' font-weight="400" textLength="111.4" lengthAdjust="spacing" font-style="italic">除尘器</text>
<rect x="2101.4" y="1406.7" width="149.8" height="36.5" fill="#213033" stroke="#E0202C" stroke-width="3"/>
<text x="2113.4" y="1435.2" font-size="30" fill="#86D8F0" font-family='"Liberation Serif","Noto Serif CJK SC",serif' font-weight="400" textLength="125.8" lengthAdjust="spacing" font-style="italic">切断水封</text>
<rect x="1727.2" y="1337.0" width="93.7" height="35.4" fill="#213033" stroke="#E0202C" stroke-width="3"/>
<text x="1739.2" y="1364.4" font-size="30" fill="#86D8F0" font-family='"Liberation Serif","Noto Serif CJK SC",serif' font-weight="400" textLength="69.7" lengthAdjust="spacing" font-style="italic">蒸汽</text>
<rect x="1699.4" y="1486.8" width="149.8" height="35.4" fill="#213033" stroke="#E0202C" stroke-width="3"/>
<text x="1719.4" y="1514.2" font-size="30" fill="#86D8F0" font-family='"Liberation Serif","Noto Serif CJK SC",serif' font-weight="400" textLength="109.8" lengthAdjust="spacing" font-style="italic">上煤机</text>
<rect x="1699.4" y="1564.0" width="149.8" height="36.0" fill="#213033" stroke="#E0202C" stroke-width="3"/>
<text x="1723.4" y="1592.0" font-size="30" fill="#86D8F0" font-family='"Liberation Serif","Noto Serif CJK SC",serif' font-weight="400" textLength="31.5" lengthAdjust="spacingAndGlyphs" font-style="italic">煤</text>
<text x="1771.4" y="1591.5" font-size="30" fill="#86D8F0" font-family='"Liberation Serif","Noto Serif CJK SC",serif' font-weight="400" textLength="62.8" lengthAdjust="spacingAndGlyphs">coal</text>
<rect x="1984.3" y="1564.0" width="150.9" height="36.0" fill="#213033" stroke="#E0202C" stroke-width="3"/>
<text x="1996.3" y="1592.0" font-size="30" fill="#86D8F0" font-family='"Liberation Serif","Noto Serif CJK SC",serif' font-weight="400" textLength="126.9" lengthAdjust="spacing" font-style="italic">锅炉燃烧</text>
<line x1="1452.0" y1="1425.0" x2="1474.0" y2="1425.0" stroke="#C6C424" stroke-width="4.5" />
<polygon points="1469.0,1416.0 1488.0,1425.0 1469.0,1434.0" fill="#C6C424" />
<line x1="1641.0" y1="1425.0" x2="1664.5" y2="1425.0" stroke="#C6C424" stroke-width="4.5" />
<polygon points="1659.5,1416.0 1678.5,1425.0 1659.5,1434.0" fill="#C6C424" />
<line x1="1875.5" y1="1425.0" x2="1896.0" y2="1425.0" stroke="#C6C424" stroke-width="4.5" />
<polygon points="1891.0,1416.0 1910.0,1425.0 1891.0,1434.0" fill="#C6C424" />
<line x1="2065.0" y1="1425.0" x2="2085.5" y2="1425.0" stroke="#C6C424" stroke-width="4.5" />
<polygon points="2080.5,1416.0 2099.5,1425.0 2080.5,1434.0" fill="#C6C424" />
<line x1="1774.0" y1="1405.0" x2="1774.0" y2="1386.5" stroke="#C6C424" stroke-width="4.5" />
<polygon points="1765.0,1391.5 1774.0,1374.5 1783.0,1391.5" fill="#C6C424" />
<path d="M1726,1354.4 H1659.6 V1392" fill="none" stroke="#C6C424" stroke-width="4.5" />
<line x1="1659.6" y1="1385.0" x2="1659.6" y2="1393.0" stroke="#C6C424" stroke-width="4.5" />
<polygon points="1650.6,1388.0 1659.6,1405.0 1668.6,1388.0" fill="#C6C424" />
<line x1="1774.0" y1="1485.0" x2="1774.0" y2="1470.0" stroke="#C6C424" stroke-width="4.5" />
<polygon points="1765.0,1475.0 1774.0,1458.0 1783.0,1475.0" fill="#C6C424" />
<line x1="1774.0" y1="1562.5" x2="1774.0" y2="1548.0" stroke="#C6C424" stroke-width="4.5" />
<polygon points="1765.0,1553.0 1774.0,1536.0 1783.0,1553.0" fill="#C6C424" />
<path d="M2177.7,1445 V1582 H2150" fill="none" stroke="#C6C424" stroke-width="4.5" />
<line x1="2160.0" y1="1582.0" x2="2151.0" y2="1582.0" stroke="#C6C424" stroke-width="4.5" />
<polygon points="2156.0,1573.0 2137.0,1582.0 2156.0,1591.0" fill="#C6C424" />
<text x="1827.4" y="1364.2" font-size="28" fill="#86D8F0" font-family='"Liberation Serif","Noto Serif CJK SC",serif' font-weight="400" textLength="84.5" lengthAdjust="spacingAndGlyphs">steam</text>
<text x="1487.4" y="1470.0" font-size="28" fill="#86D8F0" font-family='"Liberation Serif","Noto Serif CJK SC",serif' font-weight="400" textLength="151.5" lengthAdjust="spacingAndGlyphs">air blower</text>
<text x="1666.7" y="1456.8" font-size="19" fill="#86D8F0" font-family='"Liberation Serif","Noto Serif CJK SC",serif' font-weight="400" textLength="236.0" lengthAdjust="spacingAndGlyphs">gas generating furnace</text>
<text x="1919.0" y="1460.6" font-size="20" fill="#86D8F0" font-family='"Liberation Serif","Noto Serif CJK SC",serif' font-weight="400" textLength="152.5" lengthAdjust="spacingAndGlyphs">dust collector</text>
<text x="2087.3" y="1462.3" font-size="23" fill="#86D8F0" font-family='"Liberation Serif","Noto Serif CJK SC",serif' font-weight="400" textLength="177.0" lengthAdjust="spacingAndGlyphs">cutting off the</text>
<text x="2087.3" y="1483.0" font-size="23" fill="#86D8F0" font-family='"Liberation Serif","Noto Serif CJK SC",serif' font-weight="400" textLength="128.0" lengthAdjust="spacingAndGlyphs">water seal</text>
<text x="1694.0" y="1538.5" font-size="27" fill="#86D8F0" font-family='"Liberation Serif","Noto Serif CJK SC",serif' font-weight="400" textLength="164.5" lengthAdjust="spacingAndGlyphs">coal feeder</text>
<text x="1958.2" y="1620.2" font-size="28" fill="#86D8F0" font-family='"Liberation Serif","Noto Serif CJK SC",serif' font-weight="400" textLength="209.7" lengthAdjust="spacingAndGlyphs">boiler burning</text>
</g>
<defs><clipPath id="cpIn"><polygon points="270.5,1142.3 1256.3,1145.4 1252.3,1649.2 266.6,1645.1"/><polygon points="1286.5,1145.7 2269.2,1149.3 2265.8,1653.9 1282.6,1651"/></clipPath><clipPath id="cpOut"><path clip-rule="evenodd" d="M0,0 H2516 V1719 H0 Z M270.5,1142.3 L1256.3,1145.4 L1252.3,1649.2 L266.6,1645.1 Z M1286.5,1145.7 L2269.2,1149.3 L2265.8,1653.9 L1282.6,1651 Z"/></clipPath></defs>
<g clip-path="url(#cpOut)" fill="none" stroke="#5A5A5A" stroke-width="1.2" font-family='"Liberation Sans","Noto Sans CJK SC",sans-serif' font-weight="700">
<text transform="translate(257.5,1326.7) rotate(-22.2)" font-size="160" letter-spacing="32.6">河南嘉宏机械制造有限公司</text>
<text transform="translate(589,1399) rotate(-22.2)" font-size="130" letter-spacing="35">电话：</text>
<text transform="translate(1085.3,1209.3) rotate(-22.62)" font-size="198" font-weight="400" textLength="1318" lengthAdjust="spacingAndGlyphs">0371-53791055</text>
</g>
<g clip-path="url(#cpIn)" fill="none" stroke="#8A8F90" stroke-width="1.3" font-family='"Liberation Sans","Noto Sans CJK SC",sans-serif' font-weight="700">
<text transform="translate(257.5,1326.7) rotate(-22.2)" font-size="160" letter-spacing="32.6">河南嘉宏机械制造有限公司</text>
<text transform="translate(589,1399) rotate(-22.2)" font-size="130" letter-spacing="35">电话：</text>
<text transform="translate(1085.3,1209.3) rotate(-22.62)" font-size="198" font-weight="400" textLength="1318" lengthAdjust="spacingAndGlyphs">0371-53791055</text>
</g>
<rect x="0.65" y="0.65" width="2514.7" height="1717.7" fill="none" stroke="#111" stroke-width="1.3"/>
<polygon points="0.0,0.0 90.0,0.0 90.0,226.8 0.0,275.0" fill="#AE9888" />
<polygon points="0.0,293.0 90.0,245.4 90.0,503.0 0.0,503.0" fill="#E6ECF0" />
<line x1="0.0" y1="0.7" x2="2516.0" y2="0.7" stroke="#111" stroke-width="1.3" />
</svg>
</body></html>
